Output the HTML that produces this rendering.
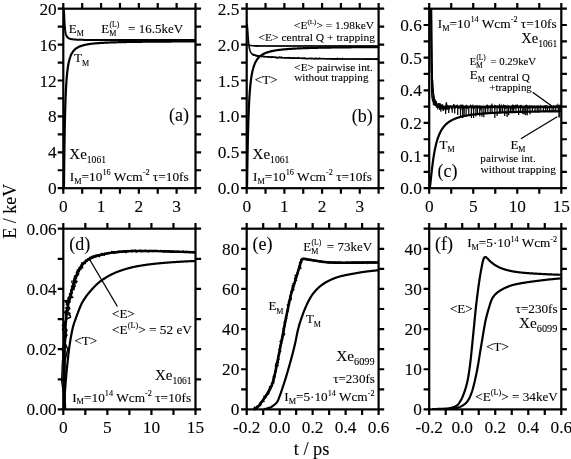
<!DOCTYPE html>
<html lang="en">
<head>
<meta charset="utf-8">
<title>E / keV versus t / ps</title>
<style>
html,body{margin:0;padding:0;background:#fff;}
body{width:571px;height:459px;overflow:hidden;}
svg{display:block;}
svg text{font-family:"Liberation Serif","Times New Roman",serif;fill:#000;stroke:#000;stroke-width:0.1px;white-space:pre;}
</style>
</head>
<body>
<svg width="571" height="459" viewBox="0 0 571 459">
<rect width="571" height="459" fill="#fff"/>
<rect x="63.3" y="8.7" width="132.2" height="179.5" fill="none" stroke="#000" stroke-width="2.2"/>
<path d="M63.3 188.2v5.6M63.3 8.7v-5.6M82.19 188.2v5.6M82.19 8.7v-5.6M101.07 188.2v5.6M101.07 8.7v-5.6M119.96 188.2v5.6M119.96 8.7v-5.6M138.84 188.2v5.6M138.84 8.7v-5.6M157.73 188.2v5.6M157.73 8.7v-5.6M176.61 188.2v5.6M176.61 8.7v-5.6M195.5 188.2v5.6M195.5 8.7v-5.6M63.3 188.2h-5.6M195.5 188.2h5.6M63.3 170.25h-5.6M195.5 170.25h5.6M63.3 152.3h-5.6M195.5 152.3h5.6M63.3 134.35h-5.6M195.5 134.35h5.6M63.3 116.4h-5.6M195.5 116.4h5.6M63.3 98.45h-5.6M195.5 98.45h5.6M63.3 80.5h-5.6M195.5 80.5h5.6M63.3 62.55h-5.6M195.5 62.55h5.6M63.3 44.6h-5.6M195.5 44.6h5.6M63.3 26.65h-5.6M195.5 26.65h5.6M63.3 8.7h-5.6M195.5 8.7h5.6" stroke="#000" stroke-width="2.2" fill="none"/>
<text x="63.3" y="211.7" font-size="17.3" text-anchor="middle">0</text>
<text x="101.07" y="211.7" font-size="17.3" text-anchor="middle">1</text>
<text x="138.84" y="211.7" font-size="17.3" text-anchor="middle">2</text>
<text x="176.61" y="211.7" font-size="17.3" text-anchor="middle">3</text>
<text x="56.7" y="194.2" font-size="17.3" text-anchor="end">0</text>
<text x="56.7" y="158.3" font-size="17.3" text-anchor="end">4</text>
<text x="56.7" y="122.4" font-size="17.3" text-anchor="end">8</text>
<text x="56.7" y="86.5" font-size="17.3" text-anchor="end">12</text>
<text x="56.7" y="50.6" font-size="17.3" text-anchor="end">16</text>
<text x="56.7" y="14.7" font-size="17.3" text-anchor="end">20</text>
<path d="M63.9 188.2L64 182.07L64.09 174.42L64.19 166.66L64.28 159.17L64.38 152.12L64.47 145.56L64.57 139.5L64.66 133.92L64.76 128.78L64.85 124.06L64.95 119.72L65.04 115.73L65.14 112.05L65.23 108.65L65.33 105.51L65.42 102.6L65.52 99.91L65.61 97.4L65.71 95.07L65.8 92.9L65.9 90.87L65.99 88.97L66.09 87.19L66.19 85.52L66.28 83.95L66.38 82.48L66.47 81.09L66.57 79.77L66.66 78.53L66.76 77.36L66.85 76.25L66.95 75.2L67.04 74.2L67.14 73.25L67.23 72.35L67.33 71.49L67.42 70.67L67.52 69.89L67.61 69.14L67.71 68.43L67.8 67.74L67.9 67.09L67.99 66.47L68.09 65.87L68.18 65.29L68.28 64.74L68.38 64.21L68.47 63.7L68.57 63.21L68.66 62.74L68.76 62.28L68.85 61.85L68.95 61.42L69.04 61.02L69.14 60.62L69.23 60.24L69.33 59.88L69.42 59.52L69.52 59.18L69.61 58.85L69.71 58.53L69.8 58.21L69.9 57.91L69.99 57.62L70.09 57.34L70.18 57.06L70.28 56.8L70.38 56.54L70.47 56.28L70.57 56.04L70.66 55.8L70.76 55.57L70.85 55.35L70.95 55.13L71.04 54.92L71.14 54.71L71.23 54.51L71.33 54.31L71.42 54.12L71.52 53.93L71.61 53.75L71.71 53.57L71.8 53.4L71.9 53.23L71.99 53.07L72.09 52.91L72.18 52.75L72.28 52.6L72.37 52.45L72.47 52.3L72.57 52.16L72.66 52.02L72.76 51.88L72.85 51.75L72.95 51.61L73.04 51.49L73.14 51.36L73.23 51.24L73.33 51.12L73.42 51L73.52 50.89L73.61 50.77L73.71 50.66L73.8 50.55L73.9 50.45L73.99 50.34L74.09 50.24L74.18 50.14L74.28 50.04L74.37 49.95L74.47 49.85L74.56 49.76L74.66 49.67L74.76 49.58L74.85 49.49L74.95 49.41L75.04 49.32L75.14 49.24L75.23 49.16L75.84 48.67L76.45 48.23L77.05 47.84L77.66 47.48L78.27 47.15L78.88 46.85L79.48 46.58L80.09 46.33L80.7 46.1L81.31 45.89L81.91 45.69L82.52 45.5L83.13 45.33L83.73 45.17L84.34 45.02L84.95 44.88L85.56 44.75L86.16 44.63L86.77 44.51L87.38 44.4L87.99 44.29L88.59 44.2L89.2 44.1L89.81 44.01L90.42 43.93L91.02 43.85L91.63 43.77L92.24 43.7L92.85 43.63L93.45 43.57L94.06 43.5L94.67 43.44L95.27 43.39L95.88 43.33L96.49 43.28L97.1 43.23L97.7 43.18L98.31 43.13L98.92 43.08L99.53 43.04L100.13 43L100.74 42.96L101.35 42.92L101.96 42.88L102.56 42.85L103.17 42.81L103.78 42.78L104.39 42.74L104.99 42.71L105.6 42.68L106.21 42.65L106.82 42.62L107.42 42.6L108.03 42.57L108.64 42.54L109.24 42.52L109.85 42.49L110.46 42.47L111.07 42.45L111.67 42.42L112.28 42.4L112.89 42.38L113.5 42.36L114.1 42.34L114.71 42.32L115.32 42.3L115.93 42.28L116.53 42.26L117.14 42.25L117.75 42.23L118.36 42.21L118.96 42.2L119.57 42.18L120.18 42.16L120.78 42.15L121.39 42.13L122 42.12L122.61 42.11L123.21 42.09L123.82 42.08L124.43 42.06L125.04 42.05L125.64 42.04L126.25 42.03L126.86 42.01L127.47 42L128.07 41.99L128.68 41.98L129.29 41.97L129.9 41.96L130.5 41.95L131.11 41.94L131.72 41.93L132.33 41.92L132.93 41.91L133.54 41.9L134.15 41.89L134.75 41.88L135.36 41.87L135.97 41.86L136.58 41.85L137.18 41.84L137.79 41.83L138.4 41.82L139.01 41.82L139.61 41.81L140.22 41.8L140.83 41.79L141.44 41.79L142.04 41.78L142.65 41.77L143.26 41.76L143.87 41.76L144.47 41.75L145.08 41.74L145.69 41.74L146.29 41.73L146.9 41.72L147.51 41.72L148.12 41.71L148.72 41.7L149.33 41.7L149.94 41.69L150.55 41.69L151.15 41.68L151.76 41.67L152.37 41.67L152.98 41.66L153.58 41.66L154.19 41.65L154.8 41.65L155.41 41.64L156.01 41.64L156.62 41.63L157.23 41.63L157.84 41.62L158.44 41.62L159.05 41.61L159.66 41.61L160.26 41.6L160.87 41.6L161.48 41.59L162.09 41.59L162.69 41.58L163.3 41.58L163.91 41.57L164.52 41.57L165.12 41.57L165.73 41.56L166.34 41.56L166.95 41.55L167.55 41.55L168.16 41.55L168.77 41.54L169.38 41.54L169.98 41.53L170.59 41.53L171.2 41.53L171.8 41.52L172.41 41.52L173.02 41.52L173.63 41.51L174.23 41.51L174.84 41.51L175.45 41.5L176.06 41.5L176.66 41.5L177.27 41.49L177.88 41.49L178.49 41.49L179.09 41.48L179.7 41.48L180.31 41.48L180.92 41.47L181.52 41.47L182.13 41.47L182.74 41.47L183.35 41.46L183.95 41.46L184.56 41.46L185.17 41.45L185.77 41.45L186.38 41.45L186.99 41.45L187.6 41.44L188.2 41.44L188.81 41.44L189.42 41.44L190.03 41.43L190.63 41.43L191.24 41.43L191.85 41.43L192.46 41.42L193.06 41.42L193.67 41.42L194.28 41.42L194.89 41.41L195.49 41.41L196.1 41.41" fill="none" stroke="#000" stroke-width="2.2" stroke-linejoin="round" stroke-linecap="butt"/>
<path d="M63.9 8.7L64 10.05L64.09 12.23L64.19 14.63L64.28 16.98L64.38 19.18L64.47 21.16L64.57 22.94L64.66 24.5L64.76 25.89L64.85 27.11L64.95 28.18L65.04 29.13L65.14 29.97L65.23 30.72L65.33 31.39L65.42 31.98L65.52 32.52L65.61 33L65.71 33.44L65.8 33.83L65.9 34.19L65.99 34.52L66.09 34.82L66.19 35.1L66.28 35.35L66.38 35.58L66.47 35.8L66.57 36L66.66 36.18L66.76 36.35L66.85 36.51L66.95 36.66L67.04 36.8L67.14 36.93L67.23 37.05L67.33 37.17L67.42 37.28L67.52 37.38L67.61 37.47L67.71 37.56L67.8 37.65L67.9 37.73L67.99 37.81L68.09 37.88L68.18 37.95L68.28 38.01L68.38 38.08L68.47 38.13L68.57 38.19L68.66 38.25L68.76 38.3L68.85 38.35L68.95 38.39L69.04 38.44L69.14 38.48L69.23 38.52L69.33 38.56L69.42 38.6L69.52 38.64L69.61 38.67L69.71 38.71L69.8 38.74L69.9 38.77L69.99 38.8L70.09 38.83L70.18 38.86L70.28 38.88L70.38 38.91L70.47 38.93L70.57 38.96L70.66 38.98L70.76 39L70.85 39.03L70.95 39.05L71.04 39.07L71.14 39.09L71.23 39.11L71.33 39.13L71.42 39.14L71.52 39.16L71.61 39.18L71.71 39.19L71.8 39.21L71.9 39.23L71.99 39.24L72.09 39.26L72.18 39.27L72.28 39.28L72.37 39.3L72.47 39.31L72.57 39.32L72.66 39.34L72.76 39.35L72.85 39.36L72.95 39.37L73.04 39.38L73.14 39.39L73.23 39.41L73.33 39.42L73.42 39.43L73.52 39.44L73.61 39.45L73.71 39.46L73.8 39.46L73.9 39.47L73.99 39.48L74.09 39.49L74.18 39.5L74.28 39.51L74.37 39.52L74.47 39.52L74.56 39.53L74.66 39.54L74.76 39.55L74.85 39.55L74.95 39.56L75.04 39.57L75.14 39.57L75.23 39.58L75.84 39.62L76.45 39.66L77.05 39.69L77.66 39.71L78.27 39.74L78.88 39.76L79.48 39.78L80.09 39.8L80.7 39.82L81.31 39.83L81.91 39.85L82.52 39.86L83.13 39.87L83.73 39.88L84.34 39.89L84.95 39.9L85.56 39.91L86.16 39.92L86.77 39.93L87.38 39.93L87.99 39.94L88.59 39.95L89.2 39.95L89.81 39.96L90.42 39.96L91.02 39.97L91.63 39.97L92.24 39.98L92.85 39.98L93.45 39.98L94.06 39.99L94.67 39.99L95.27 40L95.88 40L96.49 40L97.1 40.01L97.7 40.01L98.31 40.01L98.92 40.01L99.53 40.02L100.13 40.02L100.74 40.02L101.35 40.02L101.96 40.02L102.56 40.03L103.17 40.03L103.78 40.03L104.39 40.03L104.99 40.03L105.6 40.04L106.21 40.04L106.82 40.04L107.42 40.04L108.03 40.04L108.64 40.04L109.24 40.05L109.85 40.05L110.46 40.05L111.07 40.05L111.67 40.05L112.28 40.05L112.89 40.05L113.5 40.05L114.1 40.05L114.71 40.06L115.32 40.06L115.93 40.06L116.53 40.06L117.14 40.06L117.75 40.06L118.36 40.06L118.96 40.06L119.57 40.06L120.18 40.06L120.78 40.06L121.39 40.07L122 40.07L122.61 40.07L123.21 40.07L123.82 40.07L124.43 40.07L125.04 40.07L125.64 40.07L126.25 40.07L126.86 40.07L127.47 40.07L128.07 40.07L128.68 40.07L129.29 40.07L129.9 40.07L130.5 40.07L131.11 40.08L131.72 40.08L132.33 40.08L132.93 40.08L133.54 40.08L134.15 40.08L134.75 40.08L135.36 40.08L135.97 40.08L136.58 40.08L137.18 40.08L137.79 40.08L138.4 40.08L139.01 40.08L139.61 40.08L140.22 40.08L140.83 40.08L141.44 40.08L142.04 40.08L142.65 40.08L143.26 40.08L143.87 40.08L144.47 40.08L145.08 40.08L145.69 40.08L146.29 40.08L146.9 40.09L147.51 40.09L148.12 40.09L148.72 40.09L149.33 40.09L149.94 40.09L150.55 40.09L151.15 40.09L151.76 40.09L152.37 40.09L152.98 40.09L153.58 40.09L154.19 40.09L154.8 40.09L155.41 40.09L156.01 40.09L156.62 40.09L157.23 40.09L157.84 40.09L158.44 40.09L159.05 40.09L159.66 40.09L160.26 40.09L160.87 40.09L161.48 40.09L162.09 40.09L162.69 40.09L163.3 40.09L163.91 40.09L164.52 40.09L165.12 40.09L165.73 40.09L166.34 40.09L166.95 40.09L167.55 40.09L168.16 40.09L168.77 40.09L169.38 40.09L169.98 40.09L170.59 40.09L171.2 40.09L171.8 40.09L172.41 40.09L173.02 40.09L173.63 40.09L174.23 40.09L174.84 40.09L175.45 40.1L176.06 40.1L176.66 40.1L177.27 40.1L177.88 40.1L178.49 40.1L179.09 40.1L179.7 40.1L180.31 40.1L180.92 40.1L181.52 40.1L182.13 40.1L182.74 40.1L183.35 40.1L183.95 40.1L184.56 40.1L185.17 40.1L185.77 40.1L186.38 40.1L186.99 40.1L187.6 40.1L188.2 40.1L188.81 40.1L189.42 40.1L190.03 40.1L190.63 40.1L191.24 40.1L191.85 40.1L192.46 40.1L193.06 40.1L193.67 40.1L194.28 40.1L194.89 40.1L195.49 40.1L196.1 40.1" fill="none" stroke="#000" stroke-width="2" stroke-linejoin="round" stroke-linecap="butt"/>
<text xml:space="preserve"><tspan x="68.8" y="32.8" font-size="13">E</tspan><tspan x="76.74" y="36.44" font-size="8.06">M</tspan></text>
<text xml:space="preserve"><tspan x="101.2" y="32.8" font-size="13">E</tspan><tspan x="109.14" y="36.44" font-size="8.06">M</tspan><tspan x="109.44" y="27.21" font-size="7.66">(L)</tspan></text>
<text xml:space="preserve"><tspan x="128.1" y="32.8" font-size="13">= 16.5keV</tspan></text>
<text xml:space="preserve"><tspan x="74" y="62.3" font-size="13">T</tspan><tspan x="81.94" y="65.94" font-size="8.06">M</tspan></text>
<text xml:space="preserve"><tspan x="168.92" y="121.2" font-size="18">(a)</tspan></text>
<text xml:space="preserve"><tspan x="69.3" y="158.8" font-size="15">Xe</tspan><tspan x="86.79" y="163.15" font-size="9.6">1061</tspan></text>
<text xml:space="preserve"><tspan x="69.8" y="180.8" font-size="13" textLength="4.44" lengthAdjust="spacingAndGlyphs">I</tspan><tspan x="74.24" y="183.79" font-size="8.06" textLength="7.35" lengthAdjust="spacingAndGlyphs">M</tspan><tspan x="81.59" y="180.8" font-size="13" textLength="20.85" lengthAdjust="spacingAndGlyphs">=10</tspan><tspan x="102.43" y="175.21" font-size="8.06" textLength="8.26" lengthAdjust="spacingAndGlyphs">16</tspan><tspan x="110.7" y="180.8" font-size="13" textLength="31.96" lengthAdjust="spacingAndGlyphs"> Wcm</tspan><tspan x="142.65" y="175.21" font-size="8.06" textLength="6.88" lengthAdjust="spacingAndGlyphs">-2</tspan><tspan x="149.54" y="180.8" font-size="13" textLength="39.16" lengthAdjust="spacingAndGlyphs"> τ=10fs</tspan></text>
<rect x="246.7" y="8.7" width="131.9" height="179.5" fill="none" stroke="#000" stroke-width="2.2"/>
<path d="M246.7 188.2v5.6M246.7 8.7v-5.6M265.54 188.2v5.6M265.54 8.7v-5.6M284.39 188.2v5.6M284.39 8.7v-5.6M303.23 188.2v5.6M303.23 8.7v-5.6M322.07 188.2v5.6M322.07 8.7v-5.6M340.91 188.2v5.6M340.91 8.7v-5.6M359.76 188.2v5.6M359.76 8.7v-5.6M378.6 188.2v5.6M378.6 8.7v-5.6M246.7 188.2h-5.6M378.6 188.2h5.6M246.7 170.25h-5.6M378.6 170.25h5.6M246.7 152.3h-5.6M378.6 152.3h5.6M246.7 134.35h-5.6M378.6 134.35h5.6M246.7 116.4h-5.6M378.6 116.4h5.6M246.7 98.45h-5.6M378.6 98.45h5.6M246.7 80.5h-5.6M378.6 80.5h5.6M246.7 62.55h-5.6M378.6 62.55h5.6M246.7 44.6h-5.6M378.6 44.6h5.6M246.7 26.65h-5.6M378.6 26.65h5.6M246.7 8.7h-5.6M378.6 8.7h5.6" stroke="#000" stroke-width="2.2" fill="none"/>
<text x="246.7" y="211.7" font-size="17.3" text-anchor="middle">0</text>
<text x="284.39" y="211.7" font-size="17.3" text-anchor="middle">1</text>
<text x="322.07" y="211.7" font-size="17.3" text-anchor="middle">2</text>
<text x="359.76" y="211.7" font-size="17.3" text-anchor="middle">3</text>
<text x="239.3" y="194.2" font-size="17.3" text-anchor="end">0.0</text>
<text x="239.3" y="158.3" font-size="17.3" text-anchor="end">0.5</text>
<text x="239.3" y="122.4" font-size="17.3" text-anchor="end">1.0</text>
<text x="239.3" y="86.5" font-size="17.3" text-anchor="end">1.5</text>
<text x="239.3" y="50.6" font-size="17.3" text-anchor="end">2.0</text>
<text x="239.3" y="14.7" font-size="17.3" text-anchor="end">2.5</text>
<path d="M247 188.2L247.1 183.1L247.19 177.04L247.29 170.93L247.38 165L247.48 159.35L247.57 154.02L247.67 149.02L247.76 144.34L247.86 139.96L247.95 135.88L248.05 132.06L248.14 128.5L248.24 125.17L248.33 122.06L248.43 119.14L248.52 116.41L248.62 113.84L248.71 111.43L248.81 109.17L248.9 107.03L249 105.01L249.09 103.11L249.19 101.32L249.28 99.61L249.38 98L249.47 96.47L249.57 95.02L249.66 93.64L249.76 92.33L249.85 91.08L249.95 89.89L250.04 88.76L250.14 87.67L250.23 86.64L250.33 85.65L250.42 84.7L250.52 83.79L250.61 82.92L250.71 82.08L250.8 81.28L250.9 80.51L250.99 79.77L251.09 79.06L251.18 78.37L251.28 77.71L251.37 77.08L251.47 76.46L251.56 75.87L251.66 75.3L251.75 74.75L251.85 74.21L251.94 73.7L252.04 73.2L252.13 72.72L252.23 72.25L252.32 71.8L252.42 71.36L252.51 70.94L252.61 70.53L252.7 70.13L252.8 69.74L252.89 69.36L252.99 69L253.08 68.64L253.18 68.3L253.27 67.96L253.37 67.63L253.46 67.32L253.56 67.01L253.65 66.71L253.75 66.41L253.84 66.13L253.94 65.85L254.03 65.58L254.13 65.31L254.22 65.05L254.32 64.8L254.41 64.56L254.51 64.32L254.6 64.08L254.7 63.85L254.79 63.63L254.89 63.41L254.98 63.2L255.08 62.99L255.17 62.79L255.27 62.59L255.36 62.39L255.46 62.2L255.55 62.02L255.65 61.83L255.74 61.66L255.84 61.48L255.93 61.31L256.03 61.14L256.12 60.98L256.22 60.82L256.31 60.66L256.41 60.5L256.5 60.35L256.6 60.2L256.69 60.06L256.79 59.91L256.88 59.77L256.98 59.63L257.07 59.5L257.17 59.37L257.26 59.24L257.36 59.11L257.45 58.98L257.55 58.86L257.64 58.74L257.74 58.62L257.83 58.5L257.93 58.39L258.02 58.27L258.12 58.16L258.21 58.05L258.31 57.94L258.91 57.3L259.52 56.72L260.12 56.19L260.73 55.71L261.34 55.27L261.94 54.87L262.55 54.5L263.15 54.15L263.76 53.84L264.37 53.54L264.97 53.27L265.58 53.02L266.18 52.78L266.79 52.56L267.4 52.35L268 52.15L268.61 51.97L269.21 51.79L269.82 51.63L270.43 51.47L271.03 51.32L271.64 51.18L272.24 51.05L272.85 50.93L273.46 50.81L274.06 50.69L274.67 50.58L275.27 50.48L275.88 50.38L276.49 50.28L277.09 50.19L277.7 50.11L278.3 50.02L278.91 49.94L279.52 49.87L280.12 49.79L280.73 49.72L281.33 49.65L281.94 49.59L282.55 49.52L283.15 49.46L283.76 49.4L284.36 49.35L284.97 49.29L285.58 49.24L286.18 49.19L286.79 49.14L287.39 49.09L288 49.04L288.61 49L289.21 48.95L289.82 48.91L290.42 48.87L291.03 48.83L291.64 48.79L292.24 48.75L292.85 48.72L293.45 48.68L294.06 48.65L294.67 48.61L295.27 48.58L295.88 48.55L296.48 48.52L297.09 48.49L297.7 48.46L298.3 48.43L298.91 48.4L299.51 48.37L300.12 48.35L300.73 48.32L301.33 48.3L301.94 48.27L302.54 48.25L303.15 48.22L303.76 48.2L304.36 48.18L304.97 48.16L305.57 48.13L306.18 48.11L306.79 48.09L307.39 48.07L308 48.05L308.6 48.03L309.21 48.01L309.82 48L310.42 47.98L311.03 47.96L311.63 47.94L312.24 47.93L312.85 47.91L313.45 47.89L314.06 47.88L314.66 47.86L315.27 47.85L315.88 47.83L316.48 47.82L317.09 47.8L317.69 47.79L318.3 47.77L318.91 47.76L319.51 47.75L320.12 47.73L320.72 47.72L321.33 47.71L321.94 47.69L322.54 47.68L323.15 47.67L323.75 47.66L324.36 47.65L324.97 47.64L325.57 47.62L326.18 47.61L326.78 47.6L327.39 47.59L328 47.58L328.6 47.57L329.21 47.56L329.81 47.55L330.42 47.54L331.03 47.53L331.63 47.52L332.24 47.51L332.84 47.5L333.45 47.49L334.06 47.48L334.66 47.47L335.27 47.47L335.87 47.46L336.48 47.45L337.09 47.44L337.69 47.43L338.3 47.42L338.9 47.42L339.51 47.41L340.12 47.4L340.72 47.39L341.33 47.38L341.93 47.38L342.54 47.37L343.15 47.36L343.75 47.36L344.36 47.35L344.96 47.34L345.57 47.33L346.18 47.33L346.78 47.32L347.39 47.31L347.99 47.31L348.6 47.3L349.21 47.29L349.81 47.29L350.42 47.28L351.02 47.28L351.63 47.27L352.24 47.26L352.84 47.26L353.45 47.25L354.05 47.25L354.66 47.24L355.27 47.24L355.87 47.23L356.48 47.22L357.08 47.22L357.69 47.21L358.3 47.21L358.9 47.2L359.51 47.2L360.11 47.19L360.72 47.19L361.33 47.18L361.93 47.18L362.54 47.17L363.14 47.17L363.75 47.16L364.36 47.16L364.96 47.15L365.57 47.15L366.17 47.14L366.78 47.14L367.39 47.14L367.99 47.13L368.6 47.13L369.2 47.12L369.81 47.12L370.42 47.11L371.02 47.11L371.63 47.11L372.23 47.1L372.84 47.1L373.45 47.09L374.05 47.09L374.66 47.09L375.26 47.08L375.87 47.08L376.48 47.07L377.08 47.07L377.69 47.07L378.29 47.06L378.9 47.06" fill="none" stroke="#000" stroke-width="2.2" stroke-linejoin="round" stroke-linecap="butt"/>
<path d="M247.3 44.53L247.4 44.57L247.49 44.61L247.59 44.66L247.68 44.7L247.78 44.73L247.87 44.77L247.97 44.81L248.06 44.85L248.16 44.88L248.25 44.91L248.35 44.95L248.44 44.98L248.54 45.01L248.63 45.04L248.73 45.07L248.82 45.09L248.92 45.12L249.01 45.15L249.11 45.17L249.2 45.2L249.3 45.22L249.39 45.24L249.49 45.27L249.58 45.29L249.68 45.31L249.77 45.33L249.87 45.35L249.96 45.37L250.06 45.39L250.15 45.4L250.25 45.42L250.34 45.44L250.44 45.45L250.53 45.47L250.63 45.49L250.72 45.5L250.82 45.51L250.91 45.53L251.01 45.54L251.1 45.55L251.2 45.57L251.29 45.58L251.39 45.59L251.48 45.6L251.58 45.61L251.67 45.62L251.77 45.64L251.86 45.65L251.96 45.66L252.05 45.66L252.15 45.67L252.24 45.68L252.34 45.69L252.43 45.7L252.53 45.71L252.62 45.72L252.72 45.72L252.81 45.73L252.91 45.74L253 45.74L253.1 45.75L253.19 45.76L253.29 45.76L253.38 45.77L253.48 45.78L253.57 45.78L253.67 45.79L253.76 45.79L253.86 45.8L253.95 45.8L254.05 45.81L254.14 45.81L254.24 45.82L254.33 45.82L254.43 45.83L254.52 45.83L254.62 45.83L254.71 45.84L254.81 45.84L254.9 45.85L255 45.85L255.09 45.85L255.19 45.86L255.28 45.86L255.38 45.86L255.47 45.87L255.57 45.87L255.66 45.87L255.76 45.87L255.85 45.88L255.95 45.88L256.04 45.88L256.14 45.88L256.23 45.89L256.33 45.89L256.42 45.89L256.52 45.89L256.61 45.9L256.71 45.9L256.8 45.9L256.9 45.9L256.99 45.9L257.09 45.91L257.18 45.91L257.28 45.91L257.37 45.91L257.47 45.91L257.56 45.91L257.66 45.92L257.75 45.92L257.85 45.92L257.94 45.92L258.04 45.92L258.13 45.92L258.23 45.92L258.32 45.92L258.42 45.93L258.51 45.93L258.61 45.93L259.21 45.93L259.82 45.94L260.42 45.94L261.03 45.95L261.64 45.95L262.24 45.95L262.85 45.95L263.45 45.95L264.06 45.96L264.67 45.96L265.27 45.96L265.88 45.96L266.48 45.96L267.09 45.96L267.7 45.96L268.3 45.96L268.91 45.96L269.51 45.96L270.12 45.96L270.73 45.96L271.33 45.96L271.94 45.96L272.54 45.96L273.15 45.96L273.76 45.96L274.36 45.96L274.97 45.96L275.57 45.96L276.18 45.96L276.79 45.96L277.39 45.96L278 45.96L278.6 45.96L279.21 45.96L279.82 45.96L280.42 45.96L281.03 45.96L281.63 45.96L282.24 45.96L282.85 45.96L283.45 45.96L284.06 45.96L284.66 45.96L285.27 45.96L285.88 45.96L286.48 45.96L287.09 45.96L287.69 45.96L288.3 45.96L288.91 45.96L289.51 45.96L290.12 45.96L290.72 45.96L291.33 45.96L291.94 45.96L292.54 45.96L293.15 45.96L293.75 45.96L294.36 45.96L294.97 45.96L295.57 45.96L296.18 45.96L296.78 45.96L297.39 45.96L298 45.96L298.6 45.96L299.21 45.96L299.81 45.96L300.42 45.96L301.03 45.96L301.63 45.96L302.24 45.96L302.84 45.96L303.45 45.96L304.06 45.96L304.66 45.96L305.27 45.96L305.87 45.96L306.48 45.96L307.09 45.96L307.69 45.96L308.3 45.96L308.9 45.96L309.51 45.96L310.12 45.96L310.72 45.96L311.33 45.96L311.93 45.96L312.54 45.96L313.15 45.96L313.75 45.96L314.36 45.96L314.96 45.96L315.57 45.96L316.18 45.96L316.78 45.96L317.39 45.96L317.99 45.96L318.6 45.96L319.21 45.96L319.81 45.96L320.42 45.96L321.02 45.96L321.63 45.96L322.24 45.96L322.84 45.96L323.45 45.96L324.05 45.96L324.66 45.96L325.27 45.96L325.87 45.96L326.48 45.96L327.08 45.96L327.69 45.96L328.3 45.96L328.9 45.96L329.51 45.96L330.11 45.96L330.72 45.96L331.33 45.96L331.93 45.96L332.54 45.96L333.14 45.96L333.75 45.96L334.36 45.96L334.96 45.96L335.57 45.96L336.17 45.96L336.78 45.96L337.39 45.96L337.99 45.96L338.6 45.96L339.2 45.96L339.81 45.96L340.42 45.96L341.02 45.96L341.63 45.96L342.23 45.96L342.84 45.96L343.45 45.96L344.05 45.96L344.66 45.96L345.26 45.96L345.87 45.96L346.48 45.96L347.08 45.96L347.69 45.96L348.29 45.96L348.9 45.96L349.51 45.96L350.11 45.96L350.72 45.96L351.32 45.96L351.93 45.96L352.54 45.96L353.14 45.96L353.75 45.96L354.35 45.96L354.96 45.96L355.57 45.96L356.17 45.96L356.78 45.96L357.38 45.96L357.99 45.96L358.6 45.96L359.2 45.96L359.81 45.96L360.41 45.96L361.02 45.96L361.63 45.96L362.23 45.96L362.84 45.96L363.44 45.96L364.05 45.96L364.66 45.96L365.26 45.96L365.87 45.96L366.47 45.96L367.08 45.96L367.69 45.96L368.29 45.96L368.9 45.96L369.5 45.96L370.11 45.96L370.72 45.96L371.32 45.96L371.93 45.96L372.53 45.96L373.14 45.96L373.75 45.96L374.35 45.96L374.96 45.96L375.56 45.96L376.17 45.96L376.78 45.96L377.38 45.96L377.99 45.96L378.59 45.96L379.2 45.96" fill="none" stroke="#000" stroke-width="1.5" stroke-linejoin="round" stroke-linecap="butt"/>
<path d="M252.97 46.12L253.1 45.65L253.19 45.77L253.28 45.85L253.39 45.6L253.48 45.78L253.57 45.78L253.69 45.4L253.75 46.02L253.85 45.93L253.96 45.67L254.05 45.77L254.13 45.92L254.24 45.76L254.33 45.77L254.44 45.51L254.52 45.95L254.61 45.86L254.71 45.9L254.82 45.51L254.89 46.21L254.99 45.88L255.09 45.77L255.17 46.3L255.28 45.85L255.39 45.54L255.47 45.78L255.58 45.37L255.65 46.1L255.76 45.78L255.86 45.71L255.94 46.12L256.05 45.52L256.13 46L256.24 45.43L256.33 45.74L256.43 45.63L256.51 46.22L256.6 46.28L256.71 45.83L256.8 46.09L256.9 45.86L256.99 46.03L257.09 45.74L257.19 45.53L257.28 45.51L257.37 46L257.46 46.41L257.56 45.97L257.66 45.8L257.74 46.34L257.84 45.97L257.94 45.94L258.03 45.98L258.13 45.89L258.23 45.86L258.32 45.61L258.41 46.04L258.51 45.91L258.6 46.19L259.21 45.85L259.82 45.52L260.42 45.92L261.03 46.32L261.64 45.86L262.24 45.76L262.85 45.69L263.45 45.72L264.06 45.89L264.67 45.7L265.27 46.29L265.88 45.9L266.48 45.98L267.09 46.28L267.7 46.29L268.3 45.91L268.91 46.03L269.51 46.12L270.12 45.92L270.73 45.57L271.33 46.11L271.94 46.16L272.54 46.05L273.15 45.76L273.76 45.92L274.36 45.83L274.97 45.9L275.57 46.25L276.18 46.3L276.79 46.11L277.39 46.08L278 46.11L278.6 45.96L279.21 45.94L279.82 45.81L280.42 45.95L281.03 46.46L281.63 46.15L282.24 45.89L282.85 45.86L283.45 45.77L284.06 46.04L284.66 46.05L285.27 45.64L285.88 46.07L286.48 45.84L287.09 46.28L287.69 46L288.3 46.34L288.91 45.86L289.51 45.9L290.12 46.03L290.72 46.19L291.33 46.09L291.94 45.69L292.54 46L293.15 45.97L293.75 45.87L294.36 45.82L294.97 46.35L295.57 45.88L296.18 45.78L296.78 46.1L297.39 45.99L298 45.94L298.6 46.13L299.21 46.07L299.81 46.04L300.42 46.17L301.03 46.02L301.63 45.83L302.24 45.88L302.84 45.85L303.45 46.01L304.06 45.72L304.66 45.56L305.27 45.98L305.87 45.67L306.48 45.53L307.09 46.04L307.69 45.81L308.3 46.07L308.9 45.84L309.51 45.71L310.12 45.69L310.72 45.85L311.33 45.9L311.93 45.78L312.54 45.9L313.15 45.62L313.75 45.96L314.36 45.57L314.96 45.92L315.57 46.12L316.18 46.2L316.78 46.34L317.39 45.62L317.99 46.13L318.6 46.23L319.21 46.18L319.81 45.76L320.42 46.05L321.02 46.37L321.63 45.63L322.24 46.07L322.84 46.21L323.45 45.81L324.05 46.09L324.66 45.73L325.27 45.78L325.87 45.78L326.48 46L327.08 45.94L327.69 46.17L328.3 45.75L328.9 45.93L329.51 46.17L330.11 46.08L330.72 45.67L331.33 46.11L331.93 45.86L332.54 46.05L333.14 46.03L333.75 46.23L334.36 45.99L334.96 45.55L335.57 45.66L336.17 46.12L336.78 45.9L337.39 46.21L337.99 46.02L338.6 45.8L339.2 46.2L339.81 45.78L340.42 45.51L341.02 46.42L341.63 45.54L342.23 46.1L342.84 46.17L343.45 45.99L344.05 45.59L344.66 46.18L345.26 45.64L345.87 45.67L346.48 45.88L347.08 46.14L347.69 46.03L348.29 46.14L348.9 45.86L349.51 45.92L350.11 45.71L350.72 45.89L351.32 46.09L351.93 45.9L352.54 46.07L353.14 45.84L353.75 45.83L354.35 45.97L354.96 45.92L355.57 46.09L356.17 46L356.78 46.34L357.38 45.91L357.99 45.91L358.6 45.73L359.2 45.97L359.81 46.11L360.41 45.8L361.02 45.95L361.63 46.12L362.23 45.93L362.84 45.85L363.44 46.18L364.05 45.98L364.66 46.05L365.26 46.22L365.87 46.21L366.47 45.89L367.08 45.85L367.69 46.02L368.29 45.93L368.9 45.54L369.5 46.24L370.11 45.97L370.72 46.12L371.32 45.7L371.93 46.25L372.53 45.83L373.14 45.94L373.75 45.65L374.35 45.92L374.96 45.91L375.56 45.92L376.17 46.06L376.78 45.97L377.38 46.18L377.99 45.86L378.59 45.74L379.2 45.96" fill="none" stroke="#000" stroke-width="1" stroke-linejoin="round" stroke-linecap="butt"/>
<path d="M247 24.44L247.1 24.56L247.19 24.93L247.29 25.56L247.38 26.42L247.48 27.48L247.57 28.69L247.67 30.02L247.76 31.41L247.86 32.84L247.95 34.26L248.05 35.65L248.14 36.99L248.24 38.26L248.33 39.47L248.43 40.59L248.52 41.64L248.62 42.62L248.71 43.52L248.81 44.35L248.9 45.11L249 45.82L249.09 46.46L249.19 47.06L249.28 47.61L249.38 48.11L249.47 48.58L249.57 49L249.66 49.4L249.76 49.76L249.85 50.1L249.95 50.42L250.04 50.71L250.14 50.98L250.23 51.23L250.33 51.46L250.42 51.68L250.52 51.89L250.61 52.08L250.71 52.25L250.8 52.42L250.9 52.58L250.99 52.73L251.09 52.87L251.18 53L251.28 53.12L251.37 53.24L251.47 53.35L251.56 53.46L251.66 53.55L251.75 53.65L251.85 53.74L251.94 53.82L252.04 53.91L252.13 53.98L252.23 54.06L252.32 54.13L252.42 54.2L252.51 54.26L252.61 54.32L252.7 54.38L252.8 54.44L252.89 54.49L252.99 54.54L253.08 54.6L253.18 54.64L253.27 54.69L253.37 54.74L253.46 54.78L253.56 54.82L253.65 54.86L253.75 54.9L253.84 54.94L253.94 54.98L254.03 55.01L254.13 55.05L254.22 55.08L254.32 55.11L254.41 55.14L254.51 55.17L254.6 55.2L254.7 55.23L254.79 55.26L254.89 55.29L254.98 55.31L255.08 55.34L255.17 55.37L255.27 55.39L255.36 55.41L255.46 55.44L255.55 55.46L255.65 55.48L255.74 55.51L255.84 55.53L255.93 55.55L256.03 55.57L256.12 55.59L256.22 55.61L256.31 55.63L256.41 55.65L256.5 55.67L256.6 55.68L256.69 55.7L256.79 55.72L256.88 55.74L256.98 55.76L257.07 55.77L257.17 55.79L257.26 55.8L257.36 55.82L257.45 55.84L257.55 55.85L257.64 55.87L257.74 55.88L257.83 55.9L257.93 55.91L258.02 55.93L258.12 55.94L258.21 55.95L258.31 55.97L258.91 56.05L259.52 56.13L260.12 56.2L260.73 56.27L261.34 56.34L261.94 56.4L262.55 56.46L263.15 56.51L263.76 56.57L264.37 56.62L264.97 56.67L265.58 56.72L266.18 56.76L266.79 56.81L267.4 56.85L268 56.9L268.61 56.94L269.21 56.98L269.82 57.02L270.43 57.06L271.03 57.1L271.64 57.13L272.24 57.17L272.85 57.21L273.46 57.24L274.06 57.28L274.67 57.31L275.27 57.34L275.88 57.37L276.49 57.4L277.09 57.44L277.7 57.47L278.3 57.5L278.91 57.52L279.52 57.55L280.12 57.58L280.73 57.61L281.33 57.64L281.94 57.66L282.55 57.69L283.15 57.71L283.76 57.74L284.36 57.76L284.97 57.79L285.58 57.81L286.18 57.84L286.79 57.86L287.39 57.88L288 57.9L288.61 57.93L289.21 57.95L289.82 57.97L290.42 57.99L291.03 58.01L291.64 58.03L292.24 58.05L292.85 58.07L293.45 58.09L294.06 58.11L294.67 58.13L295.27 58.15L295.88 58.16L296.48 58.18L297.09 58.2L297.7 58.22L298.3 58.23L298.91 58.25L299.51 58.27L300.12 58.28L300.73 58.3L301.33 58.31L301.94 58.33L302.54 58.34L303.15 58.36L303.76 58.37L304.36 58.39L304.97 58.4L305.57 58.41L306.18 58.43L306.79 58.44L307.39 58.45L308 58.47L308.6 58.48L309.21 58.49L309.82 58.5L310.42 58.52L311.03 58.53L311.63 58.54L312.24 58.55L312.85 58.56L313.45 58.57L314.06 58.58L314.66 58.6L315.27 58.61L315.88 58.62L316.48 58.63L317.09 58.64L317.69 58.65L318.3 58.66L318.91 58.67L319.51 58.68L320.12 58.69L320.72 58.69L321.33 58.7L321.94 58.71L322.54 58.72L323.15 58.73L323.75 58.74L324.36 58.75L324.97 58.75L325.57 58.76L326.18 58.77L326.78 58.78L327.39 58.79L328 58.79L328.6 58.8L329.21 58.81L329.81 58.82L330.42 58.82L331.03 58.83L331.63 58.84L332.24 58.84L332.84 58.85L333.45 58.86L334.06 58.86L334.66 58.87L335.27 58.88L335.87 58.88L336.48 58.89L337.09 58.89L337.69 58.9L338.3 58.91L338.9 58.91L339.51 58.92L340.12 58.92L340.72 58.93L341.33 58.93L341.93 58.94L342.54 58.94L343.15 58.95L343.75 58.95L344.36 58.96L344.96 58.96L345.57 58.97L346.18 58.97L346.78 58.98L347.39 58.98L347.99 58.99L348.6 58.99L349.21 58.99L349.81 59L350.42 59L351.02 59.01L351.63 59.01L352.24 59.01L352.84 59.02L353.45 59.02L354.05 59.03L354.66 59.03L355.27 59.03L355.87 59.04L356.48 59.04L357.08 59.04L357.69 59.05L358.3 59.05L358.9 59.05L359.51 59.06L360.11 59.06L360.72 59.06L361.33 59.07L361.93 59.07L362.54 59.07L363.14 59.08L363.75 59.08L364.36 59.08L364.96 59.08L365.57 59.09L366.17 59.09L366.78 59.09L367.39 59.1L367.99 59.1L368.6 59.1L369.2 59.1L369.81 59.11L370.42 59.11L371.02 59.11L371.63 59.11L372.23 59.12L372.84 59.12L373.45 59.12L374.05 59.12L374.66 59.12L375.26 59.13L375.87 59.13L376.48 59.13L377.08 59.13L377.69 59.13L378.29 59.14L378.9 59.14" fill="none" stroke="#000" stroke-width="1.6" stroke-linejoin="round" stroke-linecap="butt"/>
<path d="M252.6 54.54L252.61 54.76L252.77 54.71L253.24 54.08L253.03 54.7L252.98 55.04L253.26 54.71L253.43 54.6L253.42 54.86L253.62 54.68L253.58 55.04L253.75 54.9L253.69 55.33L253.88 55.12L254.11 54.81L254.06 55.22L254.13 55.34L254.37 54.95L254.45 55.02L254.71 54.51L254.52 55.46L254.75 55.06L254.97 54.65L255.03 54.78L255 55.25L255.02 55.56L255.18 55.34L255.23 55.53L255.44 55.09L255.55 55.05L255.49 55.72L255.61 55.63L255.74 55.5L255.75 55.9L255.99 55.27L256.05 55.45L256.06 55.89L256.1 56.15L256.31 55.63L256.31 56.14L256.54 55.49L256.58 55.78L256.7 55.65L256.87 55.25L256.87 55.81L256.93 56.03L257.08 55.73L257.17 55.77L257.19 56.22L257.42 55.45L257.52 55.39L257.58 55.66L257.7 55.51L257.67 56.28L257.82 55.99L257.96 55.66L258.05 55.74L257.99 56.79L258.24 55.77L258.34 55.74L258.9 56.14L259.49 56.32L260.12 56.27L260.76 56L261.37 55.99L261.92 56.58L262.55 56.44L263.2 56.02L263.73 56.92L264.35 56.85L264.98 56.6L265.58 56.64L266.18 56.83L266.8 56.6L267.42 56.45L267.99 56.99L268.64 56.51L269.21 57.1L269.85 56.59L270.43 57.03L271.03 57.06L271.61 57.67L272.26 56.85L272.87 56.78L273.47 57.05L274.08 56.94L274.68 57.13L275.27 57.47L275.87 57.6L276.46 57.9L277.1 57.21L277.66 58.26L278.27 58.09L278.91 57.46L279.55 56.87L280.12 57.56L280.73 57.63L281.36 56.95L281.94 57.68L282.55 57.63L283.16 57.48L283.75 57.93L284.35 58.07L284.98 57.64L285.57 57.88L286.19 57.64L286.8 57.62L287.39 57.91L287.99 58.06L288.61 57.76L289.24 57.28L289.81 58.15L290.44 57.51L291.03 58.05L291.62 58.56L292.24 58.05L292.86 57.71L293.47 57.65L294.05 58.46L294.67 58.12L295.27 58.31L295.87 58.44L296.48 58.17L297.09 58.11L297.7 57.93L298.33 57.31L298.92 57.79L299.51 58.24L300.12 58.23L300.72 58.42L301.33 58.27L301.94 58.38L302.54 58.58L303.16 58.09L303.76 58.29L304.37 57.9L304.96 58.69L305.57 58.43L306.18 58.57L306.78 58.9L307.38 58.78L308 58.45L308.6 58.72L309.22 58.06L309.81 58.63L310.42 58.56L311.04 58.04L311.63 58.94L312.24 58.34L312.84 58.77L313.45 58.45L314.05 58.88L314.66 58.99L315.27 58.36L315.88 58.16L316.48 58.59L317.08 58.89L317.7 58.54L318.3 58.47L318.9 58.81L319.52 57.85L320.12 58.49L320.73 58.28L321.33 58.79L321.94 58.49L322.55 58.39L323.15 58.62L323.76 58.3L324.36 58.74L324.97 58.55L325.57 58.65L326.18 58.56L326.78 59.05L327.39 58.75L327.99 58.95L328.6 58.95L329.21 58.57L329.81 58.99L330.42 58.93L331.02 58.92L331.63 58.72L332.24 58.72L332.84 59.09L333.44 59.51L334.06 58.61L334.66 59.03L335.27 58.77L335.87 59.12L336.48 59.02L337.08 59.21L337.7 58.06L338.3 58.72L338.91 58.61L339.51 58.88L340.12 58.7L340.72 58.73L341.33 59.14L341.93 59.51L342.55 58.1L343.15 58.85L343.75 59.05L344.36 58.96L344.96 58.86L345.57 58.56L346.18 58.69L346.78 59.19L347.39 59.3L347.99 59.01L348.6 58.74L349.21 59.02L349.81 58.93L350.42 59.17L351.02 59.04L351.63 58.82L352.24 59.07L352.84 58.66L353.45 59.27L354.05 59.38L354.66 58.68L355.27 59.16L355.87 58.74L356.48 59.36L357.08 59.32L357.69 58.98L358.29 59.35L358.9 58.92L359.51 58.86L360.11 58.89L360.72 59.02L361.33 58.97L361.93 59.12L362.54 58.89L363.14 59.31L363.75 59.39L364.36 58.93L364.96 58.66L365.57 59.3L366.17 59.43L366.78 59.04L367.39 58.71L367.99 59.18L368.6 59.56L369.21 58.54L369.81 59.25L370.42 59.01L371.02 58.85L371.63 59.26L372.24 58.73L372.84 59.21L373.44 59.51L374.05 59.18L374.66 58.86L375.27 58.59L375.87 58.74L376.48 58.58L377.08 59.61L377.69 59.06L378.3 58.82L378.9 58.75" fill="none" stroke="#000" stroke-width="1.1" stroke-linejoin="round" stroke-linecap="butt"/>
<text xml:space="preserve"><tspan x="294" y="29.3" font-size="11.3" textLength="13.41" lengthAdjust="spacingAndGlyphs">&lt;E</tspan><tspan x="307.41" y="24.44" font-size="7.01" textLength="9.03" lengthAdjust="spacingAndGlyphs">(L)</tspan><tspan x="316.44" y="29.3" font-size="11.3" textLength="57.56" lengthAdjust="spacingAndGlyphs">&gt; = 1.98keV</tspan></text>
<text xml:space="preserve"><tspan x="258.5" y="41.1" font-size="11.3" textLength="116.5" lengthAdjust="spacingAndGlyphs">&lt;E&gt; central Q + trapping</tspan></text>
<text xml:space="preserve"><tspan x="294.3" y="70.8" font-size="11.3" textLength="78.5" lengthAdjust="spacingAndGlyphs">&lt;E&gt; pairwise int.</tspan></text>
<text xml:space="preserve"><tspan x="294.3" y="81.4" font-size="11.3" textLength="74.2" lengthAdjust="spacingAndGlyphs">without trapping</tspan></text>
<text xml:space="preserve"><tspan x="254.8" y="83.5" font-size="13">&lt;T&gt;</tspan></text>
<text xml:space="preserve"><tspan x="351.81" y="121.8" font-size="18">(b)</tspan></text>
<text xml:space="preserve"><tspan x="252.6" y="158.8" font-size="15">Xe</tspan><tspan x="270.09" y="163.15" font-size="9.6">1061</tspan></text>
<text xml:space="preserve"><tspan x="253.1" y="180.6" font-size="13" textLength="4.44" lengthAdjust="spacingAndGlyphs">I</tspan><tspan x="257.54" y="183.59" font-size="8.06" textLength="7.35" lengthAdjust="spacingAndGlyphs">M</tspan><tspan x="264.89" y="180.6" font-size="13" textLength="20.85" lengthAdjust="spacingAndGlyphs">=10</tspan><tspan x="285.73" y="175.01" font-size="8.06" textLength="8.26" lengthAdjust="spacingAndGlyphs">16</tspan><tspan x="294" y="180.6" font-size="13" textLength="31.96" lengthAdjust="spacingAndGlyphs"> Wcm</tspan><tspan x="325.95" y="175.01" font-size="8.06" textLength="6.88" lengthAdjust="spacingAndGlyphs">-2</tspan><tspan x="332.84" y="180.6" font-size="13" textLength="39.16" lengthAdjust="spacingAndGlyphs"> τ=10fs</tspan></text>
<rect x="429.2" y="8.7" width="132.1" height="179.5" fill="none" stroke="#000" stroke-width="2.2"/>
<path d="M429.2 188.2v5.6M429.2 8.7v-5.6M451.22 188.2v5.6M451.22 8.7v-5.6M473.23 188.2v5.6M473.23 8.7v-5.6M495.25 188.2v5.6M495.25 8.7v-5.6M517.27 188.2v5.6M517.27 8.7v-5.6M539.28 188.2v5.6M539.28 8.7v-5.6M561.3 188.2v5.6M561.3 8.7v-5.6M429.2 188.2h-5.6M561.3 188.2h5.6M429.2 171.88h-5.6M561.3 171.88h5.6M429.2 155.56h-5.6M561.3 155.56h5.6M429.2 139.25h-5.6M561.3 139.25h5.6M429.2 122.93h-5.6M561.3 122.93h5.6M429.2 106.61h-5.6M561.3 106.61h5.6M429.2 90.29h-5.6M561.3 90.29h5.6M429.2 73.97h-5.6M561.3 73.97h5.6M429.2 57.65h-5.6M561.3 57.65h5.6M429.2 41.34h-5.6M561.3 41.34h5.6M429.2 25.02h-5.6M561.3 25.02h5.6M429.2 8.7h-5.6M561.3 8.7h5.6" stroke="#000" stroke-width="2.2" fill="none"/>
<text x="429.2" y="211.7" font-size="17.3" text-anchor="middle">0</text>
<text x="473.23" y="211.7" font-size="17.3" text-anchor="middle">5</text>
<text x="517.27" y="211.7" font-size="17.3" text-anchor="middle">10</text>
<text x="561.3" y="211.7" font-size="17.3" text-anchor="middle">15</text>
<text x="421.8" y="194.2" font-size="17.3" text-anchor="end">0.0</text>
<text x="421.8" y="161.56" font-size="17.3" text-anchor="end">0.1</text>
<text x="421.8" y="128.93" font-size="17.3" text-anchor="end">0.2</text>
<text x="421.8" y="96.29" font-size="17.3" text-anchor="end">0.4</text>
<text x="421.8" y="63.65" font-size="17.3" text-anchor="end">0.5</text>
<text x="421.8" y="31.02" font-size="17.3" text-anchor="end">0.6</text>
<path d="M429.7 188.2L429.81 187.75L429.92 187.08L430.03 186.29L430.15 185.43L430.26 184.51L430.37 183.55L430.48 182.57L430.59 181.56L430.7 180.54L430.81 179.51L430.93 178.47L431.04 177.44L431.15 176.41L431.26 175.38L431.37 174.36L431.48 173.35L431.6 172.35L431.71 171.36L431.82 170.39L431.93 169.43L432.04 168.49L432.15 167.56L432.26 166.64L432.38 165.74L432.49 164.86L432.6 163.99L432.71 163.14L432.82 162.31L432.93 161.49L433.04 160.69L433.16 159.9L433.27 159.13L433.38 158.38L433.49 157.64L433.6 156.92L433.71 156.21L433.82 155.51L433.94 154.84L434.05 154.17L434.16 153.52L434.27 152.88L434.38 152.26L434.49 151.65L434.6 151.05L434.72 150.47L434.83 149.89L434.94 149.33L435.05 148.79L435.16 148.25L435.27 147.72L435.39 147.21L435.5 146.7L435.61 146.21L435.72 145.72L435.83 145.25L435.94 144.79L436.05 144.33L436.17 143.88L436.28 143.45L436.39 143.02L436.5 142.6L436.61 142.19L436.72 141.79L436.83 141.39L436.95 141L437.06 140.62L437.17 140.25L437.28 139.89L437.39 139.53L437.5 139.18L437.61 138.83L437.73 138.5L437.84 138.16L437.95 137.84L438.06 137.52L438.17 137.21L438.28 136.9L438.4 136.6L438.51 136.3L439.02 134.99L439.54 133.79L440.05 132.68L440.57 131.66L441.09 130.71L441.6 129.82L442.12 129L442.63 128.24L443.15 127.52L443.67 126.85L444.18 126.23L444.7 125.64L445.21 125.09L445.73 124.57L446.24 124.08L446.76 123.62L447.28 123.18L447.79 122.77L448.31 122.37L448.82 122L449.34 121.65L449.86 121.32L450.37 121L450.89 120.7L451.4 120.41L451.92 120.13L452.44 119.87L452.95 119.62L453.47 119.38L453.98 119.15L454.5 118.93L455.01 118.72L455.53 118.51L456.05 118.32L456.56 118.13L457.08 117.95L457.59 117.78L458.11 117.61L458.63 117.45L459.14 117.3L459.66 117.15L460.17 117.01L460.69 116.87L461.21 116.74L461.72 116.61L462.24 116.48L462.75 116.36L463.27 116.25L463.78 116.13L464.3 116.03L464.82 115.92L465.33 115.82L465.85 115.72L466.36 115.62L466.88 115.53L467.4 115.44L467.91 115.35L468.43 115.26L468.94 115.18L469.46 115.1L469.97 115.02L470.49 114.94L471.01 114.87L471.52 114.8L472.04 114.73L472.55 114.66L473.07 114.59L473.59 114.53L474.1 114.46L474.62 114.4L475.13 114.34L475.65 114.28L476.17 114.23L476.68 114.17L477.2 114.11L477.71 114.06L478.23 114.01L478.74 113.96L479.26 113.91L479.78 113.86L480.29 113.81L480.81 113.77L481.32 113.72L481.84 113.68L482.36 113.63L482.87 113.59L483.39 113.55L483.9 113.51L484.42 113.47L484.94 113.43L485.45 113.39L485.97 113.35L486.48 113.32L487 113.28L487.51 113.25L488.03 113.21L488.55 113.18L489.06 113.14L489.58 113.11L490.09 113.08L490.61 113.05L491.13 113.02L491.64 112.99L492.16 112.96L492.67 112.93L493.19 112.9L493.7 112.87L494.22 112.84L494.74 112.82L495.25 112.79L495.77 112.76L496.28 112.74L496.8 112.71L497.32 112.69L497.83 112.66L498.35 112.64L498.86 112.62L499.38 112.59L499.9 112.57L500.41 112.55L500.93 112.53L501.44 112.5L501.96 112.48L502.47 112.46L502.99 112.44L503.51 112.42L504.02 112.4L504.54 112.38L505.05 112.36L505.57 112.34L506.09 112.32L506.6 112.31L507.12 112.29L507.63 112.27L508.15 112.25L508.67 112.23L509.18 112.22L509.7 112.2L510.21 112.18L510.73 112.17L511.24 112.15L511.76 112.13L512.28 112.12L512.79 112.1L513.31 112.09L513.82 112.07L514.34 112.06L514.86 112.04L515.37 112.03L515.89 112.01L516.4 112L516.92 111.99L517.44 111.97L517.95 111.96L518.47 111.95L518.98 111.93L519.5 111.92L520.01 111.91L520.53 111.89L521.05 111.88L521.56 111.87L522.08 111.86L522.59 111.85L523.11 111.83L523.63 111.82L524.14 111.81L524.66 111.8L525.17 111.79L525.69 111.78L526.2 111.77L526.72 111.75L527.24 111.74L527.75 111.73L528.27 111.72L528.78 111.71L529.3 111.7L529.82 111.69L530.33 111.68L530.85 111.67L531.36 111.66L531.88 111.65L532.4 111.64L532.91 111.63L533.43 111.62L533.94 111.61L534.46 111.61L534.97 111.6L535.49 111.59L536.01 111.58L536.52 111.57L537.04 111.56L537.55 111.55L538.07 111.54L538.59 111.54L539.1 111.53L539.62 111.52L540.13 111.51L540.65 111.5L541.17 111.5L541.68 111.49L542.2 111.48L542.71 111.47L543.23 111.46L543.74 111.46L544.26 111.45L544.78 111.44L545.29 111.44L545.81 111.43L546.32 111.42L546.84 111.41L547.36 111.41L547.87 111.4L548.39 111.39L548.9 111.39L549.42 111.38L549.93 111.37L550.45 111.37L550.97 111.36L551.48 111.35L552 111.35L552.51 111.34L553.03 111.33L553.55 111.33L554.06 111.32L554.58 111.32L555.09 111.31L555.61 111.3L556.13 111.3L556.64 111.29L557.16 111.29L557.67 111.28L558.19 111.27L558.7 111.27L559.22 111.26L559.74 111.26L560.25 111.25L560.77 111.25L561.28 111.24L561.8 111.24" fill="none" stroke="#000" stroke-width="2.2" stroke-linejoin="round" stroke-linecap="butt"/>
<path d="M430.7 9.7L430.86 27.09L431.01 46.66L431.17 68.89L431.32 73.8L431.48 81.2L431.63 88.98L431.79 95.32L431.94 97.68L432.1 95.53L432.25 98.62L432.41 99.45L432.56 101.09L432.72 101.13L432.87 99.06L433.03 98.82L433.18 102.23L433.34 99.69L433.49 105.25L433.65 102.75L433.8 100.79L433.96 102.43L434.11 102.25L434.27 103.18L434.42 105.46L434.58 100.93L434.73 100.27L434.89 104.67L435.04 103.81L435.2 104.57L435.67 105.41L436.13 100.96L436.6 106.5L437.06 103.77L437.53 105.58L437.99 104.27L438.46 103.95L438.92 106.81L439.39 106.81L439.85 103.15L440.32 104.47L440.78 106.57L441.25 107.69L441.71 105.34L442.18 106.04L442.64 104.48L443.11 109.53L443.57 106.95L444.04 107.47L444.5 107.18L444.97 107.5L445.43 107.12L445.9 106.06L446.36 102.35L446.83 106.54L447.29 107.83L447.76 105.7L448.23 105.92L448.69 107.14L449.16 107.74L449.62 106.62L450.09 105.81L450.55 106.38L451.02 106.03L451.48 108.2L451.95 107.29L452.41 107.6L452.88 106.75L453.34 106.02L453.81 104.45L454.27 107.85L454.74 106.97L455.2 106.48L455.67 107.35L456.13 106.21L456.6 107.08L457.06 105.96L457.53 105.78L457.99 106.92L458.46 106.74L458.92 107.86L459.39 106.3L459.85 106.52L460.32 105.71L460.79 105.22L461.25 105.3L461.72 106.81L462.18 105.72L462.65 107.24L463.11 107.42L463.58 106.32L464.04 107.55L464.51 106.64L464.97 107.2L465.44 106.36L465.9 107.09L466.37 105.93L466.83 106.87L467.3 106.23L467.76 106.42L468.23 106.87L468.69 106.6L469.16 106.46L469.62 106.92L470.09 106.96L470.55 105.71L471.02 106.81L471.48 106.88L471.95 106.08L472.41 106.71L472.88 105.77L473.35 107.29L473.81 106.37L474.28 106.46L474.74 107.14L475.21 106.42L475.67 106.82L476.14 105.95L476.6 106.2L477.07 105.77L477.53 106.39L478 107.04L478.46 106.62L478.93 106.95L479.39 105.97L479.86 106.05L480.32 106.26L480.79 106.79L481.25 106.68L481.72 106.49L482.18 106.81L482.65 106.42L483.11 106.49L483.58 107.15L484.04 106.21L484.51 106.59L484.97 107.29L485.44 106.55L485.91 106.85L486.37 106.2L486.84 107.45L487.3 105.41L487.77 105.95L488.23 105.99L488.7 107.28L489.16 106.67L489.63 106.37L490.09 105.89L490.56 106.67L491.02 106.55L491.49 106.17L491.95 104.69L492.42 105.98L492.88 106.6L493.35 106.65L493.81 106.53L494.28 106.43L494.74 105.67L495.21 106.52L495.67 106.02L496.14 106.52L496.6 106.72L497.07 106.18L497.53 106.02L498 106.96L498.47 106.66L498.93 106.2L499.4 105.1L499.86 106.48L500.33 106.79L500.79 106.21L501.26 105.3L501.72 106.2L502.19 106.3L502.65 106.89L503.12 105.96L503.58 105.26L504.05 106.07L504.51 106.62L504.98 105.78L505.44 106.67L505.91 106.27L506.37 106.4L506.84 106.74L507.3 106.29L507.77 105.72L508.23 106.96L508.7 106.15L509.16 106.37L509.63 107.14L510.09 106.59L510.56 107.09L511.03 106.23L511.49 106.1L511.96 107.06L512.42 107.49L512.89 105.16L513.35 105.59L513.82 106.28L514.28 105.9L514.75 106.4L515.21 107.18L515.68 105.65L516.14 106.27L516.61 105.63L517.07 105.11L517.54 106.9L518 105.94L518.47 106.31L518.93 107.1L519.4 106.46L519.86 105.94L520.33 105.9L520.79 105.59L521.26 106.85L521.72 106.16L522.19 106.98L522.65 106.89L523.12 106.2L523.59 106.26L524.05 106.85L524.52 106.57L524.98 106.62L525.45 105.75L525.91 105.54L526.38 106.1L526.84 105.47L527.31 106.22L527.77 106.69L528.24 107.45L528.7 106.33L529.17 105.9L529.63 107.46L530.1 106.57L530.56 106.38L531.03 106.01L531.49 106.05L531.96 107.17L532.42 106.38L532.89 106.26L533.35 106.27L533.82 107.21L534.28 106.23L534.75 106.78L535.21 106.62L535.68 106.61L536.15 106.1L536.61 106.8L537.08 107.23L537.54 106.48L538.01 106.09L538.47 105.92L538.94 106.59L539.4 106.38L539.87 106.45L540.33 106.51L540.8 105.83L541.26 106.85L541.73 106.61L542.19 106.47L542.66 106.6L543.12 106.92L543.59 106.52L544.05 106.12L544.52 107.03L544.98 106.3L545.45 106.17L545.91 105.8L546.38 106.5L546.84 106.03L547.31 106.27L547.77 106.7L548.24 106.51L548.71 106.96L549.17 106.64L549.64 106.32L550.1 106.35L550.57 106.27L551.03 106.79L551.5 106.51L551.96 106.31L552.43 106.88L552.89 106.54L553.36 106.29L553.82 105.82L554.29 106.7L554.75 106.61L555.22 106.52L555.68 106.3L556.15 105.51L556.61 106.4L557.08 106.6L557.54 106.44L558.01 105.05L558.47 106.29L558.94 106.65L559.4 106.61L559.87 104.87L560.33 106.84L560.8 106.86" fill="none" stroke="#000" stroke-width="1.3" stroke-linejoin="miter" stroke-linecap="butt"/>
<path d="M430.7 9.7L430.86 9.7L431.01 9.7L431.17 9.7L431.32 9.7L431.48 9.7L431.63 9.7L431.79 31.76L431.94 48.51L432.1 62.11L432.25 65.53L432.41 79.72L432.56 80.13L432.72 86.29L432.87 91.34L433.03 88.28L433.18 95.09L433.34 100.8L433.49 96.22L433.65 96.84L433.8 97.53L433.96 100.52L434.11 98.44L434.27 98.82L434.42 101.63L434.58 105.33L434.73 102.77L434.89 101.24L435.04 100.14L435.2 104.1L435.67 105.72L436.13 102.9L436.6 103.55L437.06 106.1L437.53 107.81L437.99 106.36L438.46 105.33L438.92 104.1L439.39 109.77L439.85 108.18L440.32 105.48L440.78 108.74L441.25 108.37L441.71 106.64L442.18 106.89L442.64 108.31L443.11 109.56L443.57 107.99L444.04 108.18L444.5 109.41L444.97 105.86L445.43 107.59L445.9 107.38L446.36 108.61L446.83 106.02L447.29 107.69L447.76 105.9L448.23 107.95L448.69 107.01L449.16 106.93L449.62 108.25L450.09 107.05L450.55 107.31L451.02 107.14L451.48 107.21L451.95 106.95L452.41 106.58L452.88 106.87L453.34 105.56L453.81 107.08L454.27 107.84L454.74 106.18L455.2 107.52L455.67 106.88L456.13 106.73L456.6 106.64L457.06 105.67L457.53 107.95L457.99 106.35L458.46 106.68L458.92 107.84L459.39 107.59L459.85 107L460.32 107.09L460.79 107.25L461.25 107.63L461.72 105.9L462.18 108.42L462.65 107.14L463.11 108.02L463.58 107.38L464.04 108.22L464.51 107.31L464.97 106.84L465.44 107.36L465.9 107.93L466.37 107.13L466.83 107.26L467.3 106.86L467.76 108.11L468.23 106.75L468.69 106.56L469.16 106.4L469.62 106.85L470.09 107.13L470.55 106.41L471.02 107.78L471.48 107.22L471.95 108.06L472.41 106.33L472.88 107.33L473.35 107.34L473.81 107.68L474.28 107.97L474.74 106.73L475.21 107.48L475.67 107.4L476.14 106.95L476.6 107.11L477.07 107.34L477.53 107.21L478 107.82L478.46 106.96L478.93 107.33L479.39 107.23L479.86 106.68L480.32 108.68L480.79 107.2L481.25 107L481.72 108.05L482.18 107.53L482.65 107.72L483.11 107.43L483.58 107.41L484.04 107.12L484.51 107.44L484.97 107.91L485.44 107.38L485.91 107.25L486.37 107.29L486.84 106.93L487.3 107.68L487.77 107.14L488.23 107.35L488.7 107.81L489.16 106.75L489.63 107.15L490.09 107L490.56 107.54L491.02 107.78L491.49 107.46L491.95 107.31L492.42 107.63L492.88 106.91L493.35 107.38L493.81 107.02L494.28 107.2L494.74 107.48L495.21 107.75L495.67 107.74L496.14 107.28L496.6 106.96L497.07 107.11L497.53 107.59L498 107.62L498.47 107.8L498.93 106.99L499.4 107.47L499.86 107.6L500.33 107.48L500.79 107.26L501.26 107.41L501.72 107.42L502.19 107.11L502.65 107.21L503.12 106.93L503.58 106.57L504.05 107.66L504.51 107.01L504.98 107.22L505.44 107.94L505.91 106.68L506.37 107.61L506.84 107.17L507.3 107.08L507.77 107.4L508.23 107.06L508.7 108.15L509.16 106.76L509.63 107.32L510.09 106.81L510.56 106.98L511.03 106.85L511.49 107.97L511.96 107.64L512.42 108.14L512.89 108.15L513.35 107.91L513.82 107.62L514.28 108.08L514.75 106.77L515.21 107.12L515.68 106.72L516.14 107.38L516.61 107.58L517.07 107.41L517.54 107.51L518 107.52L518.47 107.42L518.93 106.81L519.4 107.31L519.86 107.04L520.33 107.17L520.79 107.96L521.26 107.32L521.72 106.91L522.19 107.35L522.65 107.21L523.12 107.73L523.59 107.39L524.05 106.95L524.52 107.44L524.98 107.27L525.45 107.04L525.91 106.6L526.38 107.36L526.84 107.05L527.31 107.54L527.77 107.84L528.24 108.5L528.7 107.33L529.17 107.26L529.63 106.96L530.1 107.52L530.56 106.67L531.03 107.07L531.49 107.36L531.96 107.47L532.42 107.07L532.89 107.65L533.35 107.15L533.82 107.62L534.28 107.49L534.75 107.6L535.21 106.85L535.68 107.31L536.15 107.88L536.61 107.77L537.08 107.14L537.54 107.37L538.01 107.44L538.47 106.74L538.94 107.15L539.4 107.5L539.87 107.39L540.33 107.14L540.8 106.94L541.26 107.2L541.73 107.08L542.19 106.87L542.66 106.58L543.12 107.08L543.59 106.63L544.05 107.15L544.52 106.77L544.98 107.88L545.45 107.19L545.91 107.51L546.38 107.39L546.84 107.51L547.31 107.52L547.77 107.34L548.24 107.82L548.71 107.6L549.17 107.13L549.64 107.02L550.1 107.69L550.57 107.43L551.03 107.17L551.5 106.68L551.96 106.96L552.43 106.94L552.89 107.58L553.36 107.35L553.82 107.32L554.29 107.44L554.75 107.51L555.22 107.38L555.68 107.39L556.15 107.2L556.61 107.37L557.08 107.59L557.54 107.46L558.01 107.62L558.47 107.57L558.94 107.43L559.4 107.12L559.87 107.81L560.33 107.43L560.8 107.27" fill="none" stroke="#000" stroke-width="1.3" stroke-linejoin="miter" stroke-linecap="butt"/>
<path d="M431.1 9.7L431.7 70L432.7 90L434.2 99L436.7 104" fill="none" stroke="#000" stroke-width="1.8" stroke-linejoin="round" stroke-linecap="butt"/>
<path d="M436.2 106.7L561.3 106.7" fill="none" stroke="#000" stroke-width="1.9" stroke-linejoin="round" stroke-linecap="butt"/>
<path d="M440.83 106.5V111.85M443.37 106.5V111.01M445.6 106.5V114.09M448.74 106.5V112.98M452.2 106.5V112.7M454.72 106.5V113.61M457.74 106.5V115.07M460.52 106.5V117.28M462.69 106.5V118M464.17 106.5V116.16M466.14 106.5V116.69M468.77 106.5V115.49M471.39 106.5V118M473.59 106.5V118M475.88 106.5V116.62M477.48 106.5V114.41M479.74 106.5V116.37M481.93 106.5V116.86M483.85 106.5V117.28M485.58 106.5V113.5M487.84 106.5V113.07M490.25 106.5V113.14M492.04 106.5V113.16M494.81 106.5V117.98M497.08 106.5V115.91M499.53 106.5V113.27M500.85 106.5V112.87M502.61 106.5V112.93M504.72 106.5V115.88M507.09 106.5V116.99M508.65 106.5V115.14M510.53 106.5V112.97M512.19 106.5V111.89M513.66 106.5V111.8M516.01 106.5V112.01M518.65 106.5V115.05M520.58 106.5V111.59M522.73 106.5V114.11M524.14 106.5V114.58M525.69 106.5V115.37M527.28 106.5V115.29M529.99 106.5V114.25M532.42 106.5V111.77M535.06 106.5V112.04M537.27 106.5V111.3M538.94 106.5V112.13M540.81 106.5V111.04M543.35 106.5V111.12M545.71 106.5V111.28M547.57 106.5V111.68M549.72 106.5V111.41M552.02 106.5V111.25M553.75 106.5V111.61M555.77 106.5V111.01M558.27 106.5V110.81M560.84 106.5V110.87" fill="none" stroke="#000" stroke-width="1.25"/>
<path d="M559.1 107V117.5" fill="none" stroke="#000" stroke-width="1.6"/>
<text xml:space="preserve"><tspan x="437.8" y="27.8" font-size="13" textLength="4.44" lengthAdjust="spacingAndGlyphs">I</tspan><tspan x="442.24" y="30.79" font-size="8.06" textLength="7.35" lengthAdjust="spacingAndGlyphs">M</tspan><tspan x="449.59" y="27.8" font-size="13" textLength="20.85" lengthAdjust="spacingAndGlyphs">=10</tspan><tspan x="470.43" y="22.21" font-size="8.06" textLength="8.26" lengthAdjust="spacingAndGlyphs">14</tspan><tspan x="478.7" y="27.8" font-size="13" textLength="31.96" lengthAdjust="spacingAndGlyphs"> Wcm</tspan><tspan x="510.65" y="22.21" font-size="8.06" textLength="6.88" lengthAdjust="spacingAndGlyphs">-2</tspan><tspan x="517.54" y="27.8" font-size="13" textLength="39.16" lengthAdjust="spacingAndGlyphs"> τ=10fs</tspan></text>
<text xml:space="preserve"><tspan x="521.35" y="43.3" font-size="14.5">Xe</tspan><tspan x="538.26" y="46.78" font-size="9.57">1061</tspan></text>
<text xml:space="preserve"><tspan x="469.7" y="65" font-size="10.5">E</tspan><tspan x="476.11" y="68.15" font-size="7.56">M</tspan><tspan x="476.41" y="59.75" font-size="7.18">(L)</tspan></text>
<text xml:space="preserve"><tspan x="490.5" y="65" font-size="10.8" textLength="45.6" lengthAdjust="spacingAndGlyphs">= 0.29keV</tspan></text>
<text xml:space="preserve"><tspan x="469.7" y="78.6" font-size="13">E</tspan><tspan x="477.64" y="82.24" font-size="8.06">M</tspan></text>
<text xml:space="preserve"><tspan x="488.6" y="80.6" font-size="11.1" textLength="41.3" lengthAdjust="spacingAndGlyphs">central Q</tspan></text>
<text xml:space="preserve"><tspan x="489.3" y="90.9" font-size="11" textLength="42.5" lengthAdjust="spacingAndGlyphs">+trapping</tspan></text>
<path d="M532.6 92.3L553.5 107.3" stroke="#000" stroke-width="1.3" fill="none"/>
<path d="M520.9 138.7L557.2 116.8" stroke="#000" stroke-width="1.3" fill="none"/>
<text xml:space="preserve"><tspan x="510.4" y="148.9" font-size="13">E</tspan><tspan x="518.34" y="151.76" font-size="8.06">M</tspan></text>
<text xml:space="preserve"><tspan x="439.5" y="148.9" font-size="13">T</tspan><tspan x="447.44" y="151.5" font-size="8.06">M</tspan></text>
<text xml:space="preserve"><tspan x="437.6" y="177" font-size="18">(c)</tspan></text>
<text xml:space="preserve"><tspan x="480.3" y="162.2" font-size="11.4" textLength="55.5" lengthAdjust="spacingAndGlyphs">pairwise int.</tspan></text>
<text xml:space="preserve"><tspan x="480.6" y="172.5" font-size="11.4" textLength="75.3" lengthAdjust="spacingAndGlyphs">without trapping</tspan></text>
<rect x="63.3" y="228.7" width="132.2" height="180.7" fill="none" stroke="#000" stroke-width="2.2"/>
<path d="M63.3 409.4v5.6M63.3 228.7v-5.6M85.33 409.4v5.6M85.33 228.7v-5.6M107.37 409.4v5.6M107.37 228.7v-5.6M129.4 409.4v5.6M129.4 228.7v-5.6M151.43 409.4v5.6M151.43 228.7v-5.6M173.47 409.4v5.6M173.47 228.7v-5.6M195.5 409.4v5.6M195.5 228.7v-5.6M63.3 409.4h-5.6M195.5 409.4h5.6M63.3 379.28h-5.6M195.5 379.28h5.6M63.3 349.17h-5.6M195.5 349.17h5.6M63.3 319.05h-5.6M195.5 319.05h5.6M63.3 288.93h-5.6M195.5 288.93h5.6M63.3 258.82h-5.6M195.5 258.82h5.6M63.3 228.7h-5.6M195.5 228.7h5.6" stroke="#000" stroke-width="2.2" fill="none"/>
<text x="63.3" y="432.9" font-size="17.3" text-anchor="middle">0</text>
<text x="107.37" y="432.9" font-size="17.3" text-anchor="middle">5</text>
<text x="151.43" y="432.9" font-size="17.3" text-anchor="middle">10</text>
<text x="195.5" y="432.9" font-size="17.3" text-anchor="middle">15</text>
<text x="56.7" y="415.4" font-size="17.3" text-anchor="end">0.00</text>
<text x="56.7" y="355.17" font-size="17.3" text-anchor="end">0.02</text>
<text x="56.7" y="294.93" font-size="17.3" text-anchor="end">0.04</text>
<text x="56.7" y="234.7" font-size="17.3" text-anchor="end">0.06</text>
<path d="M63.9 409L64.23 402.85L64.56 397.59L64.89 392.78L65.22 388.23L65.55 383.94L65.87 379.88L66.2 376.05L66.53 372.41L66.86 368.97L67.19 365.65L67.52 362.44L67.85 359.34L68.18 356.37L68.51 353.53L68.84 350.82L69.17 348.26L69.49 345.85L69.82 343.6L70.15 341.49L70.48 339.47L70.81 337.54L71.14 335.69L71.47 333.93L71.8 332.27L72.13 330.7L72.46 329.22L72.78 327.85L73.11 326.57L73.44 325.38L73.77 324.26L74.1 323.21L74.43 322.21L74.76 321.25L75.09 320.33L75.42 319.42L75.75 318.53L76.08 317.64L76.4 316.74L76.73 315.84L77.06 314.94L77.39 314.04L77.72 313.15L78.05 312.26L78.38 311.39L78.71 310.53L79.04 309.68L79.37 308.84L79.7 308.02L80.02 307.22L80.35 306.45L80.68 305.69L81.01 304.97L81.34 304.27L81.67 303.59L82 302.96L82.33 302.35L82.66 301.77L82.99 301.2L83.32 300.65L83.64 300.11L83.97 299.58L84.3 299.07L84.63 298.56L84.96 298.07L85.29 297.59L85.62 297.12L85.95 296.66L86.28 296.21L86.61 295.77L86.94 295.33L87.26 294.91L87.59 294.49L87.92 294.07L88.25 293.67L88.58 293.27L88.91 292.87L89.24 292.48L89.57 292.09L89.9 291.7L90.23 291.32L90.55 290.94L90.88 290.56L91.21 290.18L91.54 289.81L91.87 289.44L92.2 289.07L92.53 288.7L92.86 288.34L93.19 287.98L93.52 287.62L93.85 287.27L94.17 286.92L94.5 286.58L94.83 286.24L95.16 285.9L95.49 285.57L95.82 285.25L96.15 284.92L96.48 284.61L96.81 284.3L97.14 283.99L97.47 283.69L97.79 283.39L98.12 283.1L98.45 282.82L98.78 282.54L99.11 282.27L99.44 282.01L99.77 281.75L100.1 281.5L100.43 281.25L100.76 281.01L101.09 280.78L101.41 280.54L101.74 280.31L102.07 280.08L102.4 279.85L102.73 279.63L103.06 279.41L103.39 279.18L103.72 278.97L104.05 278.75L104.38 278.54L104.71 278.32L105.03 278.11L105.36 277.91L105.69 277.7L106.02 277.5L106.35 277.3L106.68 277.1L107.01 276.9L107.34 276.71L107.67 276.52L108 276.33L108.32 276.14L108.65 275.95L108.98 275.77L109.31 275.59L109.64 275.41L109.97 275.23L110.3 275.06L110.63 274.89L110.96 274.72L111.29 274.55L111.62 274.39L111.94 274.22L112.27 274.06L112.6 273.9L112.93 273.75L113.26 273.59L113.59 273.44L113.92 273.29L114.25 273.14L114.58 273L114.91 272.86L115.24 272.72L115.56 272.58L115.89 272.44L116.22 272.31L116.55 272.18L116.88 272.05L117.21 271.92L117.54 271.79L117.87 271.67L118.2 271.54L118.53 271.42L118.86 271.3L119.18 271.18L119.51 271.06L119.84 270.94L120.17 270.82L120.5 270.71L120.83 270.59L121.16 270.48L121.49 270.37L121.82 270.26L122.15 270.14L122.47 270.04L122.8 269.93L123.13 269.82L123.46 269.71L123.79 269.61L124.12 269.51L124.45 269.4L124.78 269.3L125.11 269.2L125.44 269.1L125.77 269L126.09 268.91L126.42 268.81L126.75 268.72L127.08 268.62L127.41 268.53L127.74 268.44L128.07 268.35L128.4 268.26L128.73 268.17L129.06 268.08L129.39 268L129.71 267.91L130.04 267.83L130.37 267.74L130.7 267.66L131.03 267.58L131.36 267.5L131.69 267.43L132.02 267.35L132.35 267.27L132.68 267.2L133.01 267.12L133.33 267.05L133.66 266.98L133.99 266.91L134.32 266.84L134.65 266.77L134.98 266.7L135.31 266.64L135.64 266.57L135.97 266.51L136.3 266.44L136.63 266.38L136.95 266.32L137.28 266.25L137.61 266.19L137.94 266.13L138.27 266.07L138.6 266.01L138.93 265.95L139.26 265.9L139.59 265.84L139.92 265.78L140.24 265.72L140.57 265.67L140.9 265.61L141.23 265.56L141.56 265.5L141.89 265.45L142.22 265.4L142.55 265.35L142.88 265.29L143.21 265.24L143.54 265.19L143.86 265.14L144.19 265.09L144.52 265.04L144.85 264.99L145.18 264.95L145.51 264.9L145.84 264.85L146.17 264.81L146.5 264.76L146.83 264.71L147.16 264.67L147.48 264.62L147.81 264.58L148.14 264.54L148.47 264.49L148.8 264.45L149.13 264.41L149.46 264.37L149.79 264.32L150.12 264.28L150.45 264.24L150.78 264.2L151.1 264.16L151.43 264.12L151.76 264.09L152.09 264.05L152.42 264.01L152.75 263.97L153.08 263.93L153.41 263.9L153.74 263.86L154.07 263.82L154.39 263.79L154.72 263.75L155.05 263.72L155.38 263.68L155.71 263.65L156.04 263.61L156.37 263.58L156.7 263.54L157.03 263.51L157.36 263.48L157.69 263.44L158.01 263.41L158.34 263.38L158.67 263.35L159 263.31L159.33 263.28L159.66 263.25L159.99 263.22L160.32 263.19L160.65 263.16L160.98 263.13L161.31 263.1L161.63 263.07L161.96 263.04L162.29 263.01L162.62 262.98L162.95 262.95L163.28 262.92L163.61 262.89L163.94 262.87L164.27 262.84L164.6 262.81L164.93 262.79L165.25 262.76L165.58 262.73L165.91 262.71L166.24 262.68L166.57 262.65L166.9 262.63L167.23 262.6L167.56 262.58L167.89 262.55L168.22 262.53L168.55 262.5L168.87 262.48L169.2 262.46L169.53 262.43L169.86 262.41L170.19 262.39L170.52 262.36L170.85 262.34L171.18 262.32L171.51 262.3L171.84 262.27L172.16 262.25L172.49 262.23L172.82 262.2L173.15 262.18L173.48 262.16L173.81 262.14L174.14 262.12L174.47 262.09L174.8 262.07L175.13 262.05L175.46 262.03L175.78 262.01L176.11 261.99L176.44 261.96L176.77 261.94L177.1 261.92L177.43 261.9L177.76 261.88L178.09 261.86L178.42 261.84L178.75 261.82L179.08 261.8L179.4 261.78L179.73 261.76L180.06 261.74L180.39 261.72L180.72 261.7L181.05 261.68L181.38 261.66L181.71 261.64L182.04 261.62L182.37 261.6L182.7 261.58L183.02 261.56L183.35 261.54L183.68 261.53L184.01 261.51L184.34 261.49L184.67 261.47L185 261.45L185.33 261.44L185.66 261.42L185.99 261.4L186.32 261.39L186.64 261.37L186.97 261.35L187.3 261.34L187.63 261.32L187.96 261.3L188.29 261.29L188.62 261.27L188.95 261.26L189.28 261.24L189.61 261.23L189.93 261.21L190.26 261.2L190.59 261.18L190.92 261.17L191.25 261.15L191.58 261.14L191.91 261.12L192.24 261.11L192.57 261.1L192.9 261.08L193.23 261.07L193.55 261.06L193.88 261.05L194.21 261.04L194.54 261.02L194.87 261.01L195.2 261" fill="none" stroke="#000" stroke-width="2.2" stroke-linejoin="round" stroke-linecap="butt"/>
<path d="M64 409L64.23 381.15L64.46 362.64L64.7 349.06L64.93 341.13L65.16 334.94L65.39 329.77L65.62 325.49L65.86 322L66.09 319.17L66.32 316.86L66.55 314.82L66.78 312.98L67.01 311.32L67.25 309.81L67.48 308.44L67.71 307.18L67.94 306L68.17 304.88L68.41 303.8L68.64 302.73L68.87 301.64L69.1 300.56L69.33 299.54L69.57 298.55L69.8 297.61L70.03 296.71L70.26 295.83L70.49 294.97L70.72 294.13L70.96 293.3L71.19 292.48L71.42 291.65L71.65 290.81L71.88 289.97L72.12 289.13L72.35 288.29L72.58 287.45L72.81 286.62L73.04 285.81L73.28 285L73.51 284.22L73.74 283.45L73.97 282.7L74.2 281.97L74.43 281.27L74.67 280.59L74.9 279.94L75.13 279.3L75.36 278.66L75.59 278.03L75.83 277.4L76.06 276.79L76.29 276.18L76.52 275.58L76.75 275L76.99 274.42L77.22 273.86L77.45 273.3L77.68 272.76L77.91 272.23L78.14 271.72L78.38 271.22L78.61 270.74L78.84 270.27L79.07 269.81L79.3 269.38L79.54 268.96L79.77 268.55L80 268.17L80.48 267.38L80.96 266.64L81.45 265.92L81.93 265.25L82.41 264.61L82.89 264.01L83.37 263.44L83.86 262.93L84.34 262.45L84.82 262.01L85.3 261.6L85.78 261.21L86.27 260.84L86.75 260.49L87.23 260.16L87.71 259.85L88.19 259.55L88.68 259.28L89.16 259.02L89.64 258.78L90.12 258.55L90.6 258.32L91.09 258.09L91.57 257.88L92.05 257.67L92.53 257.46L93.01 257.26L93.5 257.07L93.98 256.88L94.46 256.7L94.94 256.52L95.42 256.35L95.91 256.18L96.39 256.02L96.87 255.87L97.35 255.72L97.83 255.58L98.32 255.44L98.8 255.31L99.28 255.18L99.76 255.06L100.24 254.94L100.73 254.83L101.21 254.71L101.69 254.6L102.17 254.49L102.65 254.38L103.14 254.28L103.62 254.17L104.1 254.07L104.58 253.96L105.06 253.86L105.55 253.77L106.03 253.67L106.51 253.57L106.99 253.48L107.47 253.39L107.96 253.3L108.44 253.22L108.92 253.13L109.4 253.05L109.88 252.97L110.37 252.89L110.85 252.81L111.33 252.74L111.81 252.67L112.29 252.6L112.78 252.53L113.26 252.46L113.74 252.4L114.22 252.34L114.7 252.28L115.19 252.23L115.67 252.18L116.15 252.13L116.63 252.08L117.11 252.03L117.6 251.99L118.08 251.95L118.56 251.91L119.04 251.87L119.52 251.83L120.01 251.79L120.49 251.75L120.97 251.71L121.45 251.67L121.93 251.63L122.42 251.59L122.9 251.55L123.38 251.51L123.86 251.48L124.34 251.44L124.83 251.41L125.31 251.38L125.79 251.34L126.27 251.31L126.75 251.28L127.24 251.25L127.72 251.22L128.2 251.2L128.68 251.17L129.16 251.15L129.65 251.13L130.13 251.11L130.61 251.09L131.09 251.07L131.57 251.05L132.06 251.04L132.54 251.03L133.02 251.02L133.5 251.01L133.98 251L134.47 251L134.95 251L135.43 251L135.91 251L136.39 251L136.88 251L137.36 251L137.84 251L138.32 251L138.81 251L139.29 251L139.77 251L140.25 251L140.73 251L141.22 251L141.7 251L142.18 251L142.66 251L143.14 251L143.63 251L144.11 251L144.59 251L145.07 251L145.55 251L146.04 251L146.52 251L147 251L147.48 251L147.96 251L148.45 251L148.93 251L149.41 251L149.89 251L150.37 251L150.86 251L151.34 251L151.82 251L152.3 251L152.78 251L153.27 251L153.75 251L154.23 251.01L154.71 251.01L155.19 251.02L155.68 251.03L156.16 251.04L156.64 251.05L157.12 251.06L157.6 251.07L158.09 251.08L158.57 251.1L159.05 251.11L159.53 251.13L160.01 251.14L160.5 251.16L160.98 251.17L161.46 251.19L161.94 251.21L162.42 251.23L162.91 251.24L163.39 251.26L163.87 251.28L164.35 251.3L164.83 251.32L165.32 251.34L165.8 251.35L166.28 251.37L166.76 251.39L167.24 251.41L167.73 251.43L168.21 251.44L168.69 251.46L169.17 251.47L169.65 251.49L170.14 251.5L170.62 251.52L171.1 251.53L171.58 251.55L172.06 251.56L172.55 251.58L173.03 251.59L173.51 251.61L173.99 251.62L174.47 251.64L174.96 251.65L175.44 251.66L175.92 251.68L176.4 251.69L176.88 251.71L177.37 251.72L177.85 251.74L178.33 251.75L178.81 251.77L179.29 251.78L179.78 251.8L180.26 251.81L180.74 251.83L181.22 251.84L181.7 251.86L182.19 251.88L182.67 251.89L183.15 251.91L183.63 251.92L184.11 251.94L184.6 251.95L185.08 251.97L185.56 251.98L186.04 252L186.52 252.01L187.01 252.03L187.49 252.05L187.97 252.06L188.45 252.08L188.93 252.09L189.42 252.11L189.9 252.12L190.38 252.14L190.86 252.16L191.34 252.17L191.83 252.19L192.31 252.2L192.79 252.22L193.27 252.24L193.75 252.25L194.24 252.27L194.72 252.28L195.2 252.3" fill="none" stroke="#000" stroke-width="2.4" stroke-linejoin="round" stroke-linecap="butt"/>
<path d="M64.75 409.01L64.61 381.15L64.52 362.64L67.72 349.13L64.06 341.1L66.91 335.01L62.52 329.63L64.35 325.42L66.44 322.04L65.86 319.15L70.53 317.31L70.13 315.24L64.7 312.7L65.56 311.1L67.06 309.78L69.78 308.85L69.2 307.46L68.37 306.08L66.36 304.5L67.34 303.57L65.27 302L66.96 301.24L69.63 300.68L70.3 299.76L68 298.18L69.93 297.65L71.95 297.21L70.46 295.88L70.14 294.88L71.43 294.33L71.56 293.47L71.28 292.5L70.83 291.48L71.19 290.68L71.99 290L71.53 288.96L73.78 288.68L73.53 287.72L73.96 286.95L75.16 286.41L74.91 285.48L74.96 284.65L74.12 283.56L73.78 282.64L76.48 282.71L73.78 281.05L74.07 280.39L74.07 279.65L75.34 279.37L75.76 278.8L76.55 278.38L75.62 277.33L74.49 276.19L76.58 276.29L77.39 275.92L76.79 275.01L76.87 274.37L77.71 274.06L78.67 273.82L77.63 272.74L76.74 271.71L77.68 271.51L78.25 271.16L77.17 270.04L79.45 270.57L78.48 269.5L79.69 269.59L79.68 269.04L79.54 268.42L81.18 268.89L80.09 267.14L80.5 266.33L81.64 266.06L82.47 265.64L82.41 264.61L82.31 263.52L83.77 263.8L84.18 263.24L85.39 263.56L84.71 261.89L85.4 261.72L85.54 260.89L85.65 260.01L86.78 260.53L87.55 260.64L87.35 259.27L87.97 259.17L88.31 258.61L89.55 259.79L89.46 258.42L90.28 258.87L90.38 257.83L91.11 258.14L91.42 257.53L91.5 256.39L92.55 257.5L93.13 257.54L93.06 255.96L93.94 256.79L94.38 256.47L94.74 255.96L95.38 256.22L95.57 255.19L96.43 256.15L97.06 256.47L97.16 255.09L97.82 255.54L98.51 256.14L98.81 255.37L99.22 254.93L99.65 254.62L100.26 255.03L100.71 254.76L101.28 255.01L101.53 253.89L102.29 254.99L102.61 254.2L103.2 254.57L103.55 253.84L103.98 253.49L104.53 253.71L104.98 253.44L105.51 253.6L106.08 253.95L106.6 254.04L107.01 253.57L107.43 253.16L107.92 253.11L108.48 253.46L109 253.6L109.38 252.91L109.88 252.92L110.32 252.58L110.86 252.9L111.39 253.12L111.64 251.5L112.31 252.7L112.75 252.31L113.14 251.54L113.76 252.52L114.22 252.31L114.72 252.43L115.13 251.7L115.76 253L116.15 252.17L116.62 251.95L117.17 252.61L117.62 252.24L118.11 252.26L118.6 252.34L118.98 251.1L119.58 252.44L120 251.66L120.5 251.85L121 252.04L121.43 251.41L121.94 251.74L122.44 251.86L122.9 251.54L123.39 251.69L123.82 250.91L124.31 251.02L124.8 251L125.32 251.51L125.88 252.66L126.28 251.4L126.75 251.23L127.24 251.23L127.74 251.56L128.21 251.44L128.66 250.78L129.18 251.5L129.65 251.12L130.14 251.38L130.59 250.41L131.07 250.54L131.58 251.26L132.04 250.43L132.54 251.16L133.02 251.13L133.5 251.06L133.99 251.12L134.47 251.09L134.95 251.15L135.43 250.87L135.91 250.99L136.39 251.97L136.88 251.37L137.36 251.2L137.84 251.13L138.32 250.76L138.81 251.07L139.29 250.92L139.77 251.31L140.25 250.7L140.73 250.23L141.22 250.82L141.7 251.22L142.18 251.79L142.66 251.33L143.14 250.69L143.63 250.93L144.11 250.7L144.59 250.94L145.07 250.71L145.55 250.48L146.04 251.14L146.52 251.06L147 250.95L147.48 251.11L147.96 251.64L148.45 251.04L148.93 250.88L149.41 251.27L149.89 250.48L150.37 251.24L150.86 250.76L151.34 250.74L151.82 251.03L152.3 251.52L152.78 250.77L153.26 251.3L153.75 251.12L154.23 250.58L154.71 251.3L155.2 250.76L155.68 250.57L156.16 250.79L156.64 250.82L157.12 251.24L157.61 250.84L158.07 251.55L158.57 251.17L159.06 250.89L159.54 250.87L160.01 251.21L160.52 250.53L161 250.5L161.47 250.92L161.93 251.4L162.42 251.28L162.91 251.25L163.39 251.2L163.89 250.61L164.36 251.2L164.85 250.77L165.31 251.59L165.8 251.35L166.28 251.35L166.76 251.51L167.24 251.51L167.72 251.5L168.2 251.55L168.7 251.28L169.18 251.07L169.65 251.59L170.12 251.95L170.61 251.83L171.1 251.47L171.58 251.73L172.07 251.43L172.54 251.69L173.03 251.41L173.51 251.65L173.97 252.23L174.47 251.87L174.94 252.11L175.44 251.43L175.93 251.47L176.4 251.68L176.88 251.88L177.37 251.66L177.84 252.05L178.33 251.59L178.8 252.18L179.28 252.08L179.79 251.46L180.25 251.99L180.74 251.76L181.21 252.15L181.71 251.7L182.18 251.97L182.66 252.06L183.18 251.07L183.65 251.35L184.11 251.98L184.6 251.91L185.07 252.27L185.56 252.05L186.05 251.61L186.52 252.11L187.01 251.8L187.49 251.98L187.97 251.91L188.45 252.18L188.95 251.66L189.43 251.77L189.92 251.45L190.36 252.79L190.87 251.85L191.35 251.91L191.84 251.84L192.31 252.01L192.79 252.09L193.27 252.42L193.75 252.3L194.23 252.37L194.72 252.11L195.2 252.28" fill="none" stroke="#000" stroke-width="1.5" stroke-linejoin="round" stroke-linecap="butt"/>
<path d="M65.51 409.01L64.2 381.15L64.84 362.64L62.25 349.01L65.54 341.15L65.46 334.95L66.9 329.84L62.44 325.3L65.88 322L65.94 319.16L66.4 316.87L65.84 314.73L67 313.01L67.76 311.43L67.28 309.82L67.15 308.38L67.47 307.13L67.52 305.91L68.2 304.89L67.66 303.64L66.62 302.29L70.2 301.93L67.35 300.18L69.2 299.5L68.29 298.25L69.5 297.54L69.1 296.46L70.2 295.81L69.69 294.75L69.52 293.8L71.21 293.37L72.36 292.8L71.7 291.73L71.72 290.83L70.94 289.71L72.01 289.1L72.7 288.38L72 287.29L73.54 286.83L72.98 285.79L73.54 285.08L73.07 284.09L73.31 283.31L74.11 282.74L74.47 282.06L74.67 281.35L73.85 280.31L74.31 279.73L75.08 279.28L73.94 278.14L76.33 278.3L76.02 277.48L76.05 276.79L75.74 275.97L77.07 275.8L76.53 274.91L78.27 274.94L77.45 273.95L76.4 272.86L78.14 272.96L77.53 272.06L77.77 271.55L78.19 271.13L78.49 270.68L78.97 270.33L79.51 270.04L79.55 269.51L79.07 268.69L78.94 268.07L79.5 267.86L80.65 267.49L81.41 266.93L82.37 266.56L81.21 264.72L82.42 264.61L82.76 263.89L83.17 263.26L83.89 262.96L84.21 262.32L84.7 261.87L85.04 261.29L85.9 261.36L86.6 261.28L87.25 261.2L87.05 259.89L87.4 259.34L88.11 259.41L88.45 258.87L89.39 259.47L89.44 258.38L90.13 258.55L90.31 257.69L91 257.91L91.59 257.93L92.33 258.31L92.4 257.13L93.07 257.39L93.14 256.16L93.77 256.34L94.32 256.33L94.86 256.29L95.48 256.5L95.99 256.42L96.17 255.34L96.93 256.06L97.21 255.25L98.04 256.28L98.34 255.54L98.81 255.34L99.26 255.09L99.75 255.02L100.24 254.92L100.66 254.54L101.27 254.97L101.71 254.68L102.23 254.75L102.64 254.34L103.19 254.5L103.55 253.87L104.37 255.32L104.52 253.69L105.03 253.68L105.61 254.08L106.11 254.08L106.45 253.28L106.88 252.89L107.38 252.89L107.89 252.94L108.39 252.93L108.91 253.05L109.46 253.37L109.94 253.3L110.33 252.67L110.87 252.97L111.37 253L111.88 253.1L112.28 252.52L112.74 252.27L113.29 252.68L113.8 252.86L114.2 252.16L114.77 252.87L115.24 252.74L115.66 252.07L116.1 251.63L116.61 251.88L117.1 251.91L117.61 252.13L118.03 251.43L118.62 252.62L119.1 252.54L119.5 251.59L119.96 251.22L120.48 251.68L120.98 251.81L121.48 252.04L121.95 251.81L122.41 251.51L122.85 250.97L123.39 251.64L123.88 251.7L124.34 251.34L124.83 251.47L125.31 251.41L125.78 251.25L126.25 250.97L126.76 251.36L127.21 250.84L127.74 251.59L128.19 250.93L128.69 251.29L129.15 250.93L129.65 251.21L130.13 251.03L130.62 251.21L131.08 250.83L131.56 250.59L132.05 250.94L132.54 250.91L133.01 250.59L133.5 250.81L133.98 250.54L134.47 251.01L134.95 250.88L135.43 250.98L135.91 251.67L136.39 251.02L136.88 251.08L137.36 251.15L137.84 250.94L138.32 250.83L138.81 251.21L139.29 251.25L139.77 250.22L140.25 250.94L140.73 250.89L141.22 250.83L141.7 251.3L142.18 250.84L142.66 251.2L143.14 250.84L143.63 250.88L144.11 251.17L144.59 250.79L145.07 250.94L145.55 250.7L146.04 250.75L146.52 251.16L147 251.13L147.48 250.69L147.96 250.68L148.45 251.62L148.93 250.82L149.41 250.76L149.89 251.11L150.37 250.78L150.86 250.89L151.34 251.2L151.82 251.23L152.3 250.93L152.78 251.32L153.27 250.95L153.75 250.92L154.23 250.99L154.71 250.92L155.19 251.13L155.67 251.08L156.16 250.83L156.64 251.07L157.13 250.9L157.61 250.91L158.09 251.03L158.56 251.33L159.05 251.16L159.52 251.42L160 251.51L160.5 251.13L160.98 251.01L161.47 250.98L161.94 251.26L162.42 251.42L162.89 251.61L163.4 250.92L163.86 251.49L164.34 251.54L164.81 251.9L165.31 251.36L165.8 251.33L166.29 250.98L166.77 251.18L167.25 251.12L167.73 251.16L168.22 251.2L168.7 251.07L169.17 251.43L169.65 251.57L170.13 251.67L170.62 251.48L171.09 251.77L171.57 251.79L172.08 251.18L172.55 251.49L173.04 251.27L173.52 251.35L173.99 251.65L174.48 251.59L174.95 251.99L175.42 252.15L175.92 251.77L176.4 251.63L176.89 251.66L177.37 251.71L177.84 251.86L178.34 251.56L178.81 251.9L179.3 251.71L179.77 252.04L180.25 252.13L180.73 252.24L181.22 251.79L181.71 251.52L182.2 251.45L182.67 251.81L183.16 251.55L183.64 251.51L184.12 251.84L184.6 251.7L185.07 252.12L185.55 252.44L186.04 251.93L186.52 252.08L187.02 251.64L187.49 252.08L187.98 251.88L188.46 251.8L188.95 251.63L189.4 252.48L189.91 251.72L190.39 251.84L190.86 252.15L191.34 252.23L191.82 252.25L192.31 252.22L192.8 251.99L193.27 252.41L193.75 252.29L194.25 251.91L194.71 252.66L195.2 252.21" fill="none" stroke="#000" stroke-width="1.5" stroke-linejoin="round" stroke-linecap="butt"/>
<path d="M65.69 409.01L61.48 381.12L62.22 362.6L63.59 349.04L63.62 341.08L66.88 335.01L62.48 329.63L65.84 325.51L64.05 321.87L66.9 319.24L66.61 316.89L65.57 314.7L70.38 313.45L66.88 311.3L68.95 310.09L65.31 308.06L67.46 307.13L68.03 306.02L68.33 304.91L67.83 303.67L67.34 302.45L64.2 300.64L68.21 300.37L67.95 299.22L69.15 298.45L70.98 297.91L73.12 297.51L70.96 296.02L71.86 295.35L71.55 294.36L71.91 293.57L71.95 292.69L71.04 291.54L71.19 290.68L72.29 290.08L74.43 289.76L73.33 288.56L74.61 288.02L71.15 286.16L73.36 285.9L73.75 285.14L74.13 284.4L72.06 282.93L71.74 282L71.67 281.15L73.95 281.1L77.37 281.54L75.14 280.03L73.75 278.8L75.73 278.79L75.25 277.9L76.01 277.47L75.56 276.6L74.89 275.64L75.95 275.36L77.5 275.3L77.3 274.55L78.48 274.38L76.35 272.84L78.74 273.22L77.98 272.26L78.34 271.81L79.6 271.79L78.49 270.68L79.09 270.39L79.68 270.13L79.91 269.7L80.28 269.38L80.93 269.23L80.48 268.46L80.13 267.16L83 267.98L81.44 265.92L82.24 265.47L81.88 264.19L81.36 262.73L82.87 262.99L83.92 262.99L84.68 262.81L84.86 262.05L85.76 262.15L86.32 261.89L86.78 261.52L86.77 260.52L87.28 260.24L87.64 259.73L87.86 258.99L89.23 260.28L88.73 258.2L89.63 258.76L90.21 258.73L89.94 256.91L91.32 258.61L91.48 257.67L92.13 257.84L92.45 257.27L92.62 256.3L93.56 257.22L94.01 256.97L94.7 257.35L95.06 256.84L95.07 255.33L96.14 256.89L96.56 256.53L97.02 256.36L97.45 256.04L97.72 255.18L98.41 255.78L98.75 255.12L99.72 256.89L99.73 254.95L100.1 254.33L100.69 254.66L101.4 255.55L101.62 254.31L101.87 253.16L102.84 255.22L103.18 254.48L103.57 253.93L104.19 254.47L104.48 253.5L104.94 253.27L105.65 254.29L105.98 253.42L106.57 253.87L107 253.51L107.56 253.84L107.97 253.38L108.26 252.21L108.98 253.49L109.37 252.83L109.96 253.42L110.38 252.96L110.96 253.53L111.31 252.61L111.67 251.69L112.28 252.46L112.81 252.79L113.24 252.32L113.72 252.2L114.31 253.05L114.7 252.23L115.24 252.74L115.68 252.26L116.09 251.48L116.59 251.67L117.1 251.91L117.61 252.15L118.05 251.6L118.51 251.29L119.01 251.43L119.51 251.61L119.98 251.41L120.47 251.51L121.04 252.54L121.46 251.81L121.91 251.29L122.42 251.6L122.95 252.25L123.4 251.81L123.86 251.45L124.3 250.88L124.78 250.7L125.3 251.25L125.79 251.31L126.23 250.64L126.72 250.74L127.24 251.25L127.67 250.32L128.16 250.5L128.68 251.16L129.18 251.39L129.65 251.27L130.15 251.53L130.64 251.74L131.11 251.45L131.57 250.96L132.08 251.92L132.55 251.72L133.03 251.41L133.5 250.7L133.99 251.18L134.46 250.18L134.95 250.88L135.43 250.03L135.91 250.85L136.39 251.42L136.88 251.02L137.36 251.65L137.84 251.02L138.32 251.06L138.81 250.9L139.29 251.23L139.77 251.01L140.25 251.49L140.73 251.65L141.22 251.16L141.7 250.58L142.18 251.24L142.66 251.54L143.14 251.27L143.63 251.13L144.11 251.38L144.59 251.53L145.07 250.02L145.55 251.6L146.04 251.32L146.52 251.21L147 250.81L147.48 251.11L147.96 251.25L148.45 250.46L148.93 251.31L149.41 251.05L149.89 251.58L150.37 251.28L150.86 250.96L151.34 251.04L151.82 251.26L152.3 251.08L152.78 251.23L153.27 250.76L153.75 250.56L154.23 250.82L154.72 250.5L155.2 250.75L155.67 251.18L156.17 250.45L156.65 250.61L157.11 251.36L157.61 250.9L158.08 251.1L158.58 250.66L159.06 250.75L159.53 251.04L159.99 251.77L160.49 251.34L161 250.58L161.45 251.38L161.93 251.57L162.41 251.5L162.92 250.82L163.39 251.26L163.84 252.09L164.36 250.98L164.83 251.46L165.33 251.08L165.81 250.91L166.28 251.24L166.75 251.79L167.23 251.86L167.74 251.12L168.21 251.29L168.7 251.15L169.2 250.74L169.65 251.73L170.12 252.1L170.6 252.09L171.1 251.39L171.57 252.06L172.05 251.98L172.55 251.48L173.03 251.61L173.51 251.5L173.99 251.73L174.45 252.32L174.97 251.34L175.45 251.25L175.91 252.02L176.4 251.74L176.9 251.05L177.38 251.38L177.86 251.46L178.34 251.56L178.81 251.91L179.28 252.17L179.78 251.77L180.26 251.9L180.75 251.59L181.21 252.24L181.69 252.38L182.19 251.81L182.68 251.65L183.12 252.69L183.62 252.29L184.12 251.64L184.61 251.37L185.08 251.89L185.54 252.45L186.05 251.83L186.53 251.95L187.01 251.88L187.48 252.31L187.95 252.6L188.47 251.65L188.94 252.02L189.42 252.07L189.9 251.93L190.39 251.74L190.85 252.48L191.34 252.26L191.82 252.48L192.29 252.78L192.79 252.12L193.26 252.46L193.76 252.14L194.24 252.27L194.71 252.44L195.2 252.27" fill="none" stroke="#000" stroke-width="1.1" stroke-linejoin="round" stroke-linecap="butt"/>
<path d="M89 258.5L117.4 306.5" stroke="#000" stroke-width="1.3" fill="none"/>
<text xml:space="preserve"><tspan x="69.3" y="249.5" font-size="18">(d)</tspan></text>
<text xml:space="preserve"><tspan x="112.1" y="317.5" font-size="13">&lt;E&gt;</tspan></text>
<text xml:space="preserve"><tspan x="112.1" y="333.8" font-size="13" textLength="15.6" lengthAdjust="spacingAndGlyphs">&lt;E</tspan><tspan x="127.7" y="328.21" font-size="8.06" textLength="10.51" lengthAdjust="spacingAndGlyphs">(L)</tspan><tspan x="138.21" y="333.8" font-size="13" textLength="53.69" lengthAdjust="spacingAndGlyphs">&gt; = 52 eV</tspan></text>
<text xml:space="preserve"><tspan x="74.5" y="344.6" font-size="13">&lt;T&gt;</tspan></text>
<text xml:space="preserve"><tspan x="154.91" y="379.7" font-size="15">Xe</tspan><tspan x="172.4" y="383.75" font-size="9.6">1061</tspan></text>
<text xml:space="preserve"><tspan x="72.2" y="401.5" font-size="13" textLength="4.44" lengthAdjust="spacingAndGlyphs">I</tspan><tspan x="76.64" y="404.49" font-size="8.06" textLength="7.35" lengthAdjust="spacingAndGlyphs">M</tspan><tspan x="83.99" y="401.5" font-size="13" textLength="20.85" lengthAdjust="spacingAndGlyphs">=10</tspan><tspan x="104.83" y="395.91" font-size="8.06" textLength="8.26" lengthAdjust="spacingAndGlyphs">14</tspan><tspan x="113.1" y="401.5" font-size="13" textLength="31.96" lengthAdjust="spacingAndGlyphs"> Wcm</tspan><tspan x="145.05" y="395.91" font-size="8.06" textLength="6.88" lengthAdjust="spacingAndGlyphs">-2</tspan><tspan x="151.94" y="401.5" font-size="13" textLength="39.16" lengthAdjust="spacingAndGlyphs"> τ=10fs</tspan></text>
<rect x="246.7" y="228.7" width="131.9" height="180.7" fill="none" stroke="#000" stroke-width="2.2"/>
<path d="M246.7 409.4v5.6M246.7 228.7v-5.6M263.19 409.4v5.6M263.19 228.7v-5.6M279.68 409.4v5.6M279.68 228.7v-5.6M296.16 409.4v5.6M296.16 228.7v-5.6M312.65 409.4v5.6M312.65 228.7v-5.6M329.14 409.4v5.6M329.14 228.7v-5.6M345.62 409.4v5.6M345.62 228.7v-5.6M362.11 409.4v5.6M362.11 228.7v-5.6M378.6 409.4v5.6M378.6 228.7v-5.6M246.7 409.4h-5.6M378.6 409.4h5.6M246.7 389.32h-5.6M378.6 389.32h5.6M246.7 369.24h-5.6M378.6 369.24h5.6M246.7 349.17h-5.6M378.6 349.17h5.6M246.7 329.09h-5.6M378.6 329.09h5.6M246.7 309.01h-5.6M378.6 309.01h5.6M246.7 288.93h-5.6M378.6 288.93h5.6M246.7 268.86h-5.6M378.6 268.86h5.6M246.7 248.78h-5.6M378.6 248.78h5.6M246.7 228.7h-5.6M378.6 228.7h5.6" stroke="#000" stroke-width="2.2" fill="none"/>
<text x="246.7" y="432.9" font-size="17.3" text-anchor="middle">-0.2</text>
<text x="279.68" y="432.9" font-size="17.3" text-anchor="middle">0.0</text>
<text x="312.65" y="432.9" font-size="17.3" text-anchor="middle">0.2</text>
<text x="345.62" y="432.9" font-size="17.3" text-anchor="middle">0.4</text>
<text x="378.6" y="432.9" font-size="17.3" text-anchor="middle">0.6</text>
<text x="239.3" y="415.4" font-size="17.3" text-anchor="end">0</text>
<text x="239.3" y="375.24" font-size="17.3" text-anchor="end">20</text>
<text x="239.3" y="335.09" font-size="17.3" text-anchor="end">40</text>
<text x="239.3" y="294.93" font-size="17.3" text-anchor="end">60</text>
<text x="239.3" y="254.78" font-size="17.3" text-anchor="end">80</text>
<path d="M254 409L254.31 408.89L254.62 408.77L254.93 408.62L255.25 408.46L255.56 408.29L255.87 408.1L256.18 407.89L256.49 407.68L256.8 407.45L257.11 407.21L257.42 406.97L257.74 406.72L258.05 406.46L258.36 406.18L258.67 405.86L258.98 405.52L259.29 405.16L259.6 404.77L259.91 404.36L260.23 403.95L260.54 403.52L260.85 403.09L261.16 402.65L261.47 402.22L261.78 401.79L262.09 401.38L262.4 400.96L262.72 400.53L263.03 400.1L263.34 399.66L263.65 399.22L263.96 398.78L264.27 398.33L264.58 397.87L264.89 397.41L265.21 396.94L265.52 396.47L265.83 396L266.14 395.52L266.45 395.04L266.76 394.55L267.07 394.06L267.38 393.56L267.7 393.05L268.01 392.53L268.32 391.99L268.63 391.45L268.94 390.9L269.25 390.36L269.56 389.81L269.88 389.26L270.19 388.69L270.5 388.09L270.81 387.47L271.12 386.81L271.43 386.1L271.74 385.35L272.05 384.52L272.37 383.59L272.68 382.58L272.99 381.49L273.3 380.35L273.61 379.15L273.92 377.93L274.23 376.68L274.54 375.41L274.86 374.07L275.17 372.66L275.48 371.19L275.79 369.69L276.1 368.15L276.41 366.6L276.72 365.05L277.03 363.51L277.35 361.99L277.66 360.46L277.97 358.93L278.28 357.39L278.59 355.84L278.9 354.29L279.21 352.73L279.52 351.16L279.84 349.59L280.15 348.02L280.46 346.44L280.77 344.87L281.08 343.29L281.39 341.7L281.7 340.12L282.02 338.54L282.33 336.96L282.64 335.36L282.95 333.76L283.26 332.14L283.57 330.52L283.88 328.89L284.19 327.27L284.51 325.64L284.82 324.02L285.13 322.41L285.44 320.82L285.75 319.23L286.06 317.66L286.37 316.11L286.68 314.59L287 313.06L287.31 311.52L287.62 309.98L287.93 308.44L288.24 306.91L288.55 305.4L288.86 303.9L289.17 302.43L289.49 300.99L289.8 299.59L290.11 298.23L290.42 296.92L290.73 295.66L291.04 294.46L291.35 293.32L291.66 292.23L291.98 291.18L292.29 290.16L292.6 289.16L292.91 288.18L293.22 287.19L293.53 286.2L293.84 285.19L294.15 284.16L294.47 283.14L294.78 282.12L295.09 281.1L295.4 280.08L295.71 279.06L296.02 278.04L296.33 277.02L296.65 275.99L296.96 274.96L297.27 273.92L297.58 272.88L297.89 271.84L298.2 270.8L298.51 269.76L298.82 268.72L299.14 267.68L299.45 266.64L299.76 265.53L300.07 264.37L300.38 263.22L300.69 262.16L301 261.26L301.31 260.56L301.63 259.92L301.94 259.4L302.25 259.12L302.56 259.05L302.87 259.01L303.18 258.97L303.49 258.94L303.8 258.92L304.12 258.91L304.43 258.9L304.74 258.9L305.05 258.93L305.36 258.96L305.67 259L305.98 259.06L306.29 259.12L306.61 259.19L306.92 259.26L307.23 259.33L307.54 259.41L307.85 259.48L308.16 259.54L308.47 259.6L308.78 259.65L309.1 259.7L309.41 259.75L309.72 259.8L310.03 259.85L310.34 259.9L310.65 259.95L310.96 260L311.28 260.04L311.59 260.09L311.9 260.14L312.21 260.19L312.52 260.24L312.83 260.28L313.14 260.33L313.45 260.38L313.77 260.43L314.08 260.47L314.39 260.52L314.7 260.57L315.01 260.62L315.32 260.67L315.63 260.71L315.94 260.76L316.26 260.81L316.57 260.86L316.88 260.92L317.19 260.97L317.5 261.02L317.81 261.07L318.12 261.12L318.43 261.17L318.75 261.22L319.06 261.27L319.37 261.32L319.68 261.37L319.99 261.42L320.3 261.47L320.61 261.51L320.92 261.56L321.24 261.61L321.55 261.65L321.86 261.69L322.17 261.73L322.48 261.77L322.79 261.81L323.1 261.85L323.42 261.88L323.73 261.91L324.04 261.95L324.35 261.98L324.66 262.01L324.97 262.04L325.28 262.08L325.59 262.11L325.91 262.14L326.22 262.17L326.53 262.2L326.84 262.23L327.15 262.26L327.46 262.29L327.77 262.31L328.08 262.34L328.4 262.36L328.71 262.39L329.02 262.41L329.33 262.43L329.64 262.44L329.95 262.46L330.26 262.47L330.57 262.49L330.89 262.5L331.2 262.51L331.51 262.51L331.82 262.52L332.13 262.53L332.44 262.54L332.75 262.54L333.06 262.55L333.38 262.56L333.69 262.57L334 262.57L334.31 262.58L334.62 262.59L334.93 262.59L335.24 262.6L335.55 262.6L335.87 262.61L336.18 262.62L336.49 262.62L336.8 262.63L337.11 262.63L337.42 262.64L337.73 262.64L338.05 262.65L338.36 262.65L338.67 262.66L338.98 262.66L339.29 262.66L339.6 262.67L339.91 262.67L340.22 262.67L340.54 262.68L340.85 262.68L341.16 262.68L341.47 262.69L341.78 262.69L342.09 262.69L342.4 262.69L342.71 262.69L343.03 262.7L343.34 262.7L343.65 262.7L343.96 262.7L344.27 262.7L344.58 262.7L344.89 262.7L345.2 262.7L345.52 262.7L345.83 262.7L346.14 262.7L346.45 262.7L346.76 262.7L347.07 262.7L347.38 262.7L347.69 262.69L348.01 262.69L348.32 262.69L348.63 262.69L348.94 262.69L349.25 262.69L349.56 262.68L349.87 262.68L350.18 262.68L350.5 262.68L350.81 262.67L351.12 262.67L351.43 262.67L351.74 262.67L352.05 262.67L352.36 262.66L352.68 262.66L352.99 262.66L353.3 262.65L353.61 262.65L353.92 262.65L354.23 262.65L354.54 262.64L354.85 262.64L355.17 262.64L355.48 262.64L355.79 262.63L356.1 262.63L356.41 262.63L356.72 262.62L357.03 262.62L357.34 262.62L357.66 262.62L357.97 262.61L358.28 262.61L358.59 262.61L358.9 262.61L359.21 262.61L359.52 262.6L359.83 262.6L360.15 262.6L360.46 262.6L360.77 262.6L361.08 262.59L361.39 262.59L361.7 262.59L362.01 262.59L362.32 262.59L362.64 262.58L362.95 262.58L363.26 262.58L363.57 262.58L363.88 262.58L364.19 262.58L364.5 262.57L364.82 262.57L365.13 262.57L365.44 262.57L365.75 262.57L366.06 262.56L366.37 262.56L366.68 262.56L366.99 262.56L367.31 262.56L367.62 262.56L367.93 262.55L368.24 262.55L368.55 262.55L368.86 262.55L369.17 262.55L369.48 262.55L369.8 262.54L370.11 262.54L370.42 262.54L370.73 262.54L371.04 262.54L371.35 262.54L371.66 262.53L371.97 262.53L372.29 262.53L372.6 262.53L372.91 262.53L373.22 262.53L373.53 262.52L373.84 262.52L374.15 262.52L374.46 262.52L374.78 262.52L375.09 262.52L375.4 262.51L375.71 262.51L376.02 262.51L376.33 262.51L376.64 262.51L376.95 262.51L377.27 262.5L377.58 262.5L377.89 262.5L378.2 262.5" fill="none" stroke="#000" stroke-width="2.6" stroke-linejoin="round" stroke-linecap="butt"/>
<path d="M253.65 407.99L254.73 410.01L254.69 408.93L254.58 407.91L254.49 407.06L255.58 408.33L256.17 408.57L256.64 408.58L257.01 408.41L256.67 407.27L257.45 407.65L256.74 406.12L257.85 406.86L258.54 407.03L258.09 405.9L258.63 405.83L259.09 405.62L259.42 405.26L260.53 405.5L259.32 403.92L261.09 404.58L259.83 403.01L260.5 402.83L260.74 402.35L261.47 402.22L261.54 401.61L262.44 401.63L262.47 401L264.11 401.54L263.32 400.31L263.24 399.59L263.93 399.42L264.38 399.07L264.21 398.28L263.95 397.44L264.45 397.11L265.37 397.06L266.1 396.86L266.19 396.24L266.14 395.52L266.86 395.31L266.51 394.39L267.3 394.2L268.35 394.15L268.47 393.52L268.94 393.08L268.14 391.89L268.82 391.56L268.34 390.56L269.91 390.73L269.34 389.69L269.07 388.81L269.91 388.54L270.73 388.21L269.38 386.78L270.21 386.39L272.17 386.42L271.87 385.4L272.08 384.53L271.28 383.24L273.88 382.93L273.79 381.72L273.87 380.5L272.86 378.96L274.4 378.05L275.13 376.9L274.37 375.36L274.74 374.04L274.88 372.6L275.98 371.3L275.68 369.67L275.93 368.12L275.4 366.4L275.56 364.82L277.79 363.66L278.56 362.24L278.35 360.61L279.07 359.16L277.94 357.32L278.61 355.85L279.24 354.36L279.15 352.72L280.81 351.42L278.92 349.41L279.78 347.95L280.26 346.41L280.31 344.77L281.76 343.42L279.98 341.43L282.6 340.3L282.74 338.68L282.62 337.01L283.72 335.57L284.74 334.1L283.45 332.18L284.17 330.63L284.23 328.96L284.64 327.35L284.2 325.58L284.35 323.93L285.64 322.51L285.12 320.75L286.5 319.38L286.71 317.79L286.11 316.06L287.02 314.66L287.12 313.08L287.28 311.51L288.52 310.16L288.03 308.46L288.48 306.96L287.2 305.12L289.37 304.01L288.19 302.22L289.28 300.95L291.05 299.87L291.48 298.55L290.21 296.87L289.89 295.45L291.41 294.56L291.14 293.26L291.98 292.32L291.08 290.91L293.16 290.43L293.78 289.53L291.95 287.87L292.74 287.04L293.11 286.07L294.44 285.37L292.82 283.75L294.69 283.21L294.69 282.09L294.6 280.95L295.98 280.26L294.39 278.66L295.12 277.77L295.85 276.87L297.23 276.17L296.78 274.9L296.75 273.76L298 273.01L297.62 271.76L297.82 270.69L298.37 269.72L299.15 268.82L301.15 268.29L298.74 266.44L300.04 265.61L300.04 264.36L300.28 263.19L301.86 262.53L301.63 261.5L301.85 260.81L301.41 259.81L301.51 259.07L302.4 259.39L302.54 258.93L302.83 258.67L303.25 259.56L303.43 258.13L303.78 258.47L304.12 259.18L304.43 258.91L304.73 259.14L305.07 258.71L305.33 259.21L305.7 258.83L305.9 259.5L306.24 259.39L306.57 259.37L306.8 259.75L307.2 259.48L307.57 259.26L307.75 259.97L308.13 259.68L308.4 260L308.77 259.73L309.03 260.08L309.44 259.54L309.77 259.47L310.09 259.48L310.3 260.17L310.74 259.41L311.04 259.51L311.33 259.67L311.57 260.21L311.87 260.32L312.24 259.99L312.48 260.52L312.81 260.42L313.08 260.74L313.4 260.7L313.79 260.27L314.06 260.58L314.39 260.52L314.67 260.75L314.99 260.72L315.31 260.72L315.59 260.97L315.93 260.83L316.21 261.08L316.56 260.92L316.88 260.92L317.14 261.29L317.45 261.35L317.74 261.48L318.08 261.35L318.44 261.16L318.73 261.33L319.04 261.37L319.44 260.85L319.72 261.09L319.91 261.92L320.3 261.5L320.73 260.72L320.92 261.57L321.22 261.7L321.59 261.33L321.76 262.41L322.12 262.11L322.45 262.06L322.79 261.8L323.08 262.04L323.38 262.18L323.71 262.1L324.05 261.79L324.34 262.08L324.65 262.1L324.96 262.18L325.31 261.81L325.58 262.23L325.9 262.19L326.21 262.29L326.52 262.31L326.87 261.85L327.12 262.56L327.44 262.55L327.8 261.96L328.08 262.35L328.41 262.15L328.71 262.29L329 262.75L329.32 262.63L329.61 263.08L329.95 262.53L330.28 262.18L330.57 262.56L330.91 261.81L331.18 263.08L331.51 262.63L331.82 262.69L332.13 262.61L332.45 262.32L332.75 262.54L333.07 262.35L333.38 262.44L333.68 262.7L334.01 262.24L334.3 263.1L334.63 262.29L334.93 262.87L335.25 262.43L335.56 262.26L335.86 262.75L336.18 262.69L336.49 262.57L336.8 262.63L337.11 262.46L337.42 262.78L337.74 262.51L338.04 262.67L338.35 263L338.67 262.27L338.98 262.5L339.29 262.47L339.6 262.44L339.92 262.28L340.22 262.6L340.53 262.73L340.85 262.65L341.16 262.21L341.47 262.89L341.78 262.9L342.09 262.72L342.4 262.4L342.72 262.44L343.02 263.28L343.33 263.21L343.65 262.84L343.96 262.43L344.27 263.08L344.58 262.75L344.89 263.2L345.2 262.53L345.52 262.84L345.83 262.64L346.14 262.92L346.45 262.51L346.76 262.97L347.07 262.58L347.38 262.43L347.7 262.86L348.01 262.76L348.31 262.06L348.63 262.68L348.94 262.72L349.25 262.74L349.57 263.29L349.87 262.49L350.18 262.68L350.49 262.17L350.8 262.24L351.12 262.5L351.43 262.63L351.74 262.61L352.05 262.86L352.37 262.88L352.68 262.96L352.99 262.61L353.3 262.8L353.61 262.44L353.92 262.76L354.23 262.79L354.54 262.49L354.85 261.68L355.16 262.44L355.48 263.4L355.79 262.6L356.1 262.44L356.41 262.66L356.72 262.96L357.03 262.72L357.34 262.56L357.65 262.23L357.97 262.52L358.28 262.25L358.59 262.71L358.9 263.06L359.21 262.92L359.52 262.42L359.83 262.31L360.14 262.18L360.46 262.73L360.77 262.76L361.08 262.83L361.39 262.69L361.7 262.23L362.01 262.01L362.33 262.92L362.63 262.33L362.95 263.15L363.25 261.95L363.57 262.24L363.88 262.29L364.19 262.65L364.5 262.77L364.81 262.4L365.13 262.74L365.44 262.17L365.75 262.41L366.06 262.2L366.37 262.39L366.68 262.36L366.99 262.64L367.31 263.58L367.61 262.14L367.93 262.49L368.24 262.75L368.55 262.57L368.86 262.97L369.17 262.23L369.49 262.77L369.79 262.3L370.11 262.78L370.42 262.58L370.73 262.61L371.04 262.35L371.35 261.97L371.66 262.2L371.98 262.74L372.29 262.44L372.6 262.74L372.91 262.12L373.22 262.71L373.53 262.82L373.84 261.85L374.15 262.61L374.47 263.09L374.77 262.28L375.09 262.81L375.4 262.52L375.71 262.76L376.02 262.39L376.33 262.27L376.64 262.37L376.95 262.39L377.27 262.32L377.58 262.23L377.89 262.83L378.2 262.32" fill="none" stroke="#000" stroke-width="1.3" stroke-linejoin="round" stroke-linecap="butt"/>
<path d="M253.76 408.31L254.11 408.36L254.74 409.03L254.34 407.41L255.38 408.72L255.77 408.65L256.27 408.74L256.03 407.67L256.2 407.27L256.86 407.53L257.16 407.28L257.91 407.58L257.75 406.74L257.88 406.26L257.8 405.6L258.57 405.77L259.01 405.55L259.83 405.6L259.65 404.81L260.56 404.85L260.82 404.39L260.16 403.25L260.29 402.69L260.85 402.43L261.35 402.14L261.39 401.5L262.43 401.62L262.73 401.19L263.3 400.95L263.16 400.2L263.12 399.51L263.85 399.36L263.51 398.46L264.34 398.38L264.2 397.61L265.47 397.8L263.88 396.06L265.94 396.75L266.27 396.29L266.12 395.51L266.62 395.15L266.87 394.62L267.73 394.47L268.23 394.08L267.7 393.05L268.85 393.02L267.98 391.8L268.85 391.57L269.17 391.03L268.6 389.98L269.73 389.91L269.53 389.07L270.61 388.91L270.02 387.85L269.85 387.01L270.41 386.48L271.44 386.11L271.92 385.41L272.25 384.58L271.93 383.45L273.13 382.71L272.67 381.4L273.17 380.31L274.18 379.3L273.83 377.9L273.14 376.4L274.96 375.51L274.86 374.07L274.94 372.61L276.23 371.35L275.42 369.61L276.48 368.23L276.49 366.62L278.25 365.36L275.98 363.29L277.46 362.01L277.86 360.51L278.61 359.06L278.03 357.34L278.22 355.77L279.72 354.45L278.96 352.68L279.69 351.2L279.8 349.59L280.37 348.07L279.66 346.29L280.45 344.8L281.05 343.28L281.45 341.72L282.35 340.25L282.31 338.6L282.66 337.02L282.6 335.36L283.69 333.9L282.9 332.07L283.51 330.51L283 328.72L283.57 327.15L285 325.74L284.79 324.02L284.03 322.2L285.41 320.81L285.61 319.2L285.39 317.53L286.57 316.15L286.52 314.56L287 313.06L287.86 311.63L287.25 309.91L288.56 308.57L288.08 306.88L288.4 305.37L289.61 304.06L289.39 302.48L289.24 300.94L289.72 299.57L290.23 298.26L289.57 296.71L291.11 295.76L291.04 294.46L290.6 293.11L291.12 292.07L292.47 291.33L291.56 289.94L293.82 289.55L292.29 287.98L293.33 287.23L292.06 285.74L293.8 285.17L293.85 284.07L294.73 283.22L294.88 282.15L294.89 281.04L296.62 280.46L296.14 279.2L295.59 277.91L296.52 277.08L294.97 275.48L296.61 274.85L297.97 274.13L297.24 272.78L297.95 271.86L297.52 270.6L298.94 269.89L298.87 268.74L299.11 267.68L299.96 266.79L300.68 265.79L300.51 264.49L299.36 262.93L300.89 262.22L301.13 261.3L300.67 260.26L300.75 259.45L301.72 259.23L302.15 258.93L302.55 258.98L302.81 258.54L303.19 259.03L303.5 259.08L303.79 258.71L304.12 258.98L304.43 258.75L304.75 258.51L305.05 258.91L305.34 259.15L305.57 259.63L306.08 258.54L306.32 258.99L306.66 258.97L306.91 259.31L307.28 259.12L307.54 259.42L307.8 259.69L308.2 259.35L308.48 259.56L308.72 260.02L309.06 259.89L309.47 259.35L309.64 260.28L310.06 259.67L310.33 259.96L310.67 259.84L310.98 259.88L311.3 259.87L311.57 260.23L311.93 259.94L312.26 259.88L312.54 260.09L312.83 260.27L313.22 259.84L313.43 260.56L313.79 260.24L314.05 260.63L314.34 260.84L314.69 260.63L314.99 260.73L315.34 260.55L315.66 260.54L316.02 260.3L316.26 260.76L316.59 260.72L316.97 260.34L317.18 261.02L317.44 261.37L317.8 261.15L318.08 261.38L318.45 261.1L318.79 260.97L319.06 261.28L319.38 261.23L319.72 261.09L319.95 261.65L320.3 261.5L320.64 261.35L320.92 261.6L321.24 261.56L321.53 261.79L321.81 262.06L322.19 261.58L322.52 261.48L322.75 262.13L323.04 262.41L323.43 261.73L323.75 261.69L324.07 261.65L324.35 261.97L324.66 262.03L324.98 261.97L325.26 262.27L325.61 261.9L325.92 261.99L326.25 261.86L326.5 262.52L326.82 262.48L327.12 262.56L327.48 262.08L327.75 262.63L328.08 262.4L328.38 262.53L328.7 262.52L329.02 262.32L329.33 262.38L329.66 262.07L329.96 262.32L330.27 262.41L330.58 262.2L330.89 262.51L331.19 262.81L331.51 262.39L331.83 262.28L332.14 262.32L332.44 262.58L332.74 262.96L333.06 262.59L333.38 262.57L333.69 262.26L334 262.65L334.31 262.72L334.62 262.48L334.93 262.58L335.25 262.43L335.55 262.78L335.86 262.92L336.18 262.7L336.49 262.74L336.8 262.63L337.11 262.47L337.43 262.45L337.74 262.54L338.04 262.67L338.36 262.64L338.66 262.89L338.98 262.83L339.29 263.01L339.6 262.85L339.91 262.61L340.22 262.69L340.54 262.28L340.84 263.08L341.16 262.54L341.47 262.58L341.78 263.12L342.09 262.43L342.4 262.54L342.71 262.68L343.03 262.55L343.34 262.71L343.65 262.75L343.96 262.85L344.27 262.67L344.58 262.86L344.89 262.62L345.2 262.84L345.52 262.98L345.83 262.28L346.14 262.64L346.45 262.74L346.76 262.24L347.07 261.96L347.38 262.77L347.69 262.54L348.01 262.88L348.32 262.69L348.63 262.68L348.94 262.6L349.25 262.71L349.56 262.46L349.87 262.56L350.19 262.86L350.5 262.61L350.81 262.79L351.12 262.67L351.43 262.59L351.74 262.43L352.05 262.86L352.36 262.46L352.68 262.75L352.98 262.28L353.3 262.72L353.61 262.74L353.92 262.49L354.23 262.26L354.54 262.6L354.85 262.66L355.16 262.51L355.48 262.47L355.79 262.85L356.1 262.6L356.41 262.53L356.72 262.82L357.03 262.61L357.34 262.45L357.66 262.82L357.97 262.53L358.28 262.83L358.59 262.45L358.9 262.68L359.21 262.9L359.52 262.71L359.84 262.72L360.15 262.7L360.46 262.8L360.77 262.61L361.08 262.7L361.39 262.54L361.7 263.05L362.01 262.38L362.33 262.78L362.63 262.35L362.95 262.71L363.26 262.89L363.57 262.32L363.88 262.99L364.19 262.34L364.5 262.38L364.82 262.65L365.12 262.31L365.44 262.8L365.75 262.68L366.06 261.92L366.37 262.22L366.68 262.39L366.99 262.66L367.3 262.3L367.62 262.38L367.93 262.7L368.24 262.31L368.55 262.62L368.86 262.22L369.17 262.78L369.49 262.88L369.79 262.27L370.1 261.98L370.42 262.14L370.73 262.76L371.04 262.4L371.35 262.78L371.66 262.21L371.97 262.3L372.29 262.5L372.6 262.78L372.91 262.47L373.22 262.28L373.53 262.59L373.84 262.54L374.15 262.63L374.46 262.47L374.78 262.36L375.09 262.51L375.4 261.92L375.71 262.57L376.02 262.8L376.33 262.63L376.64 262.28L376.95 262.14L377.27 262.81L377.58 262.38L377.89 262.44L378.2 262.55" fill="none" stroke="#000" stroke-width="1.3" stroke-linejoin="round" stroke-linecap="butt"/>
<path d="M264 409L264.38 408.99L264.76 408.96L265.15 408.92L265.53 408.86L265.91 408.79L266.29 408.71L266.67 408.61L267.06 408.51L267.44 408.4L267.82 408.28L268.2 408.15L268.58 408.02L268.97 407.88L269.35 407.74L269.73 407.6L270.11 407.45L270.49 407.3L270.87 407.14L271.26 406.95L271.64 406.74L272.02 406.51L272.4 406.25L272.78 405.98L273.17 405.7L273.55 405.4L273.93 405.1L274.31 404.79L274.69 404.47L275.08 404.14L275.46 403.8L275.84 403.42L276.22 403.02L276.6 402.57L276.99 402.09L277.37 401.55L277.75 400.9L278.13 400.11L278.51 399.2L278.9 398.21L279.28 397.18L279.66 396.14L280.04 395.13L280.42 394.09L280.81 393.02L281.19 391.92L281.57 390.79L281.95 389.66L282.33 388.51L282.72 387.35L283.1 386.19L283.48 385.03L283.86 383.86L284.24 382.67L284.62 381.48L285.01 380.28L285.39 379.06L285.77 377.84L286.15 376.59L286.53 375.34L286.92 374.06L287.3 372.77L287.68 371.47L288.06 370.15L288.44 368.82L288.83 367.49L289.21 366.15L289.59 364.8L289.97 363.43L290.35 362.06L290.74 360.67L291.12 359.27L291.5 357.85L291.88 356.41L292.26 354.96L292.65 353.48L293.03 351.99L293.41 350.47L293.79 348.93L294.17 347.37L294.56 345.78L294.94 344.16L295.32 342.52L295.7 340.76L296.08 338.86L296.46 336.89L296.85 334.92L297.23 333.01L297.61 331.23L297.99 329.63L298.37 328.15L298.76 326.74L299.14 325.39L299.52 324.1L299.9 322.85L300.28 321.65L300.67 320.49L301.05 319.37L301.43 318.26L301.81 317.16L302.19 316.09L302.58 315.03L302.96 313.98L303.34 312.96L303.72 311.95L304.1 310.97L304.49 310L304.87 309.05L305.25 308.12L305.63 307.22L306.01 306.33L306.4 305.47L306.78 304.63L307.16 303.82L307.54 303.02L307.92 302.25L308.31 301.5L308.69 300.77L309.07 300.04L309.45 299.34L309.83 298.65L310.21 297.97L310.6 297.32L310.98 296.69L311.36 296.08L311.74 295.49L312.12 294.93L312.51 294.39L312.89 293.87L313.27 293.38L313.65 292.91L314.03 292.44L314.42 291.99L314.8 291.54L315.18 291.1L315.56 290.68L315.94 290.26L316.33 289.85L316.71 289.45L317.09 289.06L317.47 288.68L317.85 288.31L318.24 287.94L318.62 287.59L319 287.25L319.38 286.91L319.76 286.58L320.15 286.26L320.53 285.95L320.91 285.65L321.29 285.35L321.67 285.07L322.05 284.79L322.44 284.52L322.82 284.25L323.2 283.99L323.58 283.74L323.96 283.49L324.35 283.24L324.73 283.01L325.11 282.77L325.49 282.54L325.87 282.32L326.26 282.1L326.64 281.89L327.02 281.68L327.4 281.47L327.78 281.27L328.17 281.08L328.55 280.88L328.93 280.69L329.31 280.51L329.69 280.32L330.08 280.14L330.46 279.97L330.84 279.79L331.22 279.62L331.6 279.45L331.99 279.28L332.37 279.11L332.75 278.95L333.13 278.79L333.51 278.63L333.89 278.47L334.28 278.32L334.66 278.17L335.04 278.02L335.42 277.87L335.8 277.73L336.19 277.59L336.57 277.46L336.95 277.32L337.33 277.2L337.71 277.07L338.1 276.95L338.48 276.84L338.86 276.72L339.24 276.62L339.62 276.51L340.01 276.41L340.39 276.31L340.77 276.21L341.15 276.12L341.53 276.02L341.92 275.93L342.3 275.84L342.68 275.75L343.06 275.66L343.44 275.57L343.83 275.49L344.21 275.41L344.59 275.32L344.97 275.24L345.35 275.17L345.74 275.09L346.12 275.01L346.5 274.93L346.88 274.86L347.26 274.78L347.64 274.71L348.03 274.64L348.41 274.57L348.79 274.49L349.17 274.42L349.55 274.35L349.94 274.28L350.32 274.21L350.7 274.15L351.08 274.08L351.46 274.01L351.85 273.94L352.23 273.87L352.61 273.8L352.99 273.74L353.37 273.67L353.76 273.6L354.14 273.53L354.52 273.46L354.9 273.39L355.28 273.32L355.67 273.25L356.05 273.19L356.43 273.12L356.81 273.05L357.19 272.98L357.58 272.91L357.96 272.85L358.34 272.78L358.72 272.72L359.1 272.65L359.48 272.59L359.87 272.52L360.25 272.46L360.63 272.39L361.01 272.33L361.39 272.27L361.78 272.21L362.16 272.15L362.54 272.09L362.92 272.03L363.3 271.98L363.69 271.92L364.07 271.86L364.45 271.81L364.83 271.76L365.21 271.7L365.6 271.65L365.98 271.6L366.36 271.55L366.74 271.51L367.12 271.46L367.51 271.41L367.89 271.36L368.27 271.31L368.65 271.27L369.03 271.22L369.42 271.18L369.8 271.13L370.18 271.09L370.56 271.04L370.94 271L371.33 270.96L371.71 270.92L372.09 270.87L372.47 270.83L372.85 270.79L373.23 270.75L373.62 270.71L374 270.68L374.38 270.64L374.76 270.6L375.14 270.56L375.53 270.53L375.91 270.49L376.29 270.46L376.67 270.43L377.05 270.39L377.44 270.36L377.82 270.33L378.2 270.3" fill="none" stroke="#000" stroke-width="2.2" stroke-linejoin="round" stroke-linecap="butt"/>
<text xml:space="preserve"><tspan x="252.6" y="249.5" font-size="18">(e)</tspan></text>
<text xml:space="preserve"><tspan x="303.3" y="250.7" font-size="13">E</tspan><tspan x="311.24" y="254.34" font-size="8.06">M</tspan><tspan x="311.54" y="245.11" font-size="7.66">(L)</tspan></text>
<text xml:space="preserve"><tspan x="326.8" y="250.7" font-size="13">= 73keV</tspan></text>
<text xml:space="preserve"><tspan x="268.4" y="309.9" font-size="13">E</tspan><tspan x="276.34" y="313.54" font-size="8.06">M</tspan></text>
<text xml:space="preserve"><tspan x="305.9" y="323" font-size="13">T</tspan><tspan x="313.84" y="326.64" font-size="8.06">M</tspan></text>
<text xml:space="preserve"><tspan x="336.26" y="361.2" font-size="15.3">Xe</tspan><tspan x="354.1" y="364.57" font-size="10.25">6099</tspan></text>
<text xml:space="preserve"><tspan x="333.3" y="382.8" font-size="13" textLength="41.5" lengthAdjust="spacingAndGlyphs">τ=230fs</tspan></text>
<text xml:space="preserve"><tspan x="284.3" y="401.3" font-size="13" textLength="4.41" lengthAdjust="spacingAndGlyphs">I</tspan><tspan x="288.71" y="404.29" font-size="8.06" textLength="7.3" lengthAdjust="spacingAndGlyphs">M</tspan><tspan x="296" y="401.3" font-size="13" textLength="31.72" lengthAdjust="spacingAndGlyphs">=5·10</tspan><tspan x="327.73" y="395.71" font-size="8.06" textLength="8.21" lengthAdjust="spacingAndGlyphs">14</tspan><tspan x="335.93" y="401.3" font-size="13" textLength="31.73" lengthAdjust="spacingAndGlyphs"> Wcm</tspan><tspan x="367.66" y="395.71" font-size="8.06" textLength="6.84" lengthAdjust="spacingAndGlyphs">-2</tspan></text>
<rect x="429.2" y="228.7" width="132.1" height="180.7" fill="none" stroke="#000" stroke-width="2.2"/>
<path d="M429.2 409.4v5.6M429.2 228.7v-5.6M445.71 409.4v5.6M445.71 228.7v-5.6M462.22 409.4v5.6M462.22 228.7v-5.6M478.74 409.4v5.6M478.74 228.7v-5.6M495.25 409.4v5.6M495.25 228.7v-5.6M511.76 409.4v5.6M511.76 228.7v-5.6M528.27 409.4v5.6M528.27 228.7v-5.6M544.79 409.4v5.6M544.79 228.7v-5.6M561.3 409.4v5.6M561.3 228.7v-5.6M429.2 409.4h-5.6M561.3 409.4h5.6M429.2 389.32h-5.6M561.3 389.32h5.6M429.2 369.24h-5.6M561.3 369.24h5.6M429.2 349.17h-5.6M561.3 349.17h5.6M429.2 329.09h-5.6M561.3 329.09h5.6M429.2 309.01h-5.6M561.3 309.01h5.6M429.2 288.93h-5.6M561.3 288.93h5.6M429.2 268.86h-5.6M561.3 268.86h5.6M429.2 248.78h-5.6M561.3 248.78h5.6M429.2 228.7h-5.6M561.3 228.7h5.6" stroke="#000" stroke-width="2.2" fill="none"/>
<text x="429.2" y="432.9" font-size="17.3" text-anchor="middle">-0.2</text>
<text x="462.22" y="432.9" font-size="17.3" text-anchor="middle">0.0</text>
<text x="495.25" y="432.9" font-size="17.3" text-anchor="middle">0.2</text>
<text x="528.27" y="432.9" font-size="17.3" text-anchor="middle">0.4</text>
<text x="561.3" y="432.9" font-size="17.3" text-anchor="middle">0.6</text>
<text x="421.8" y="415.4" font-size="17.3" text-anchor="end">0</text>
<text x="421.8" y="375.24" font-size="17.3" text-anchor="end">10</text>
<text x="421.8" y="335.09" font-size="17.3" text-anchor="end">20</text>
<text x="421.8" y="294.93" font-size="17.3" text-anchor="end">30</text>
<text x="421.8" y="254.78" font-size="17.3" text-anchor="end">40</text>
<path d="M432 409L432.26 409L432.52 409L432.77 409L433.03 409L433.29 409L433.55 409L433.81 409L434.06 409L434.32 408.99L434.58 408.99L434.84 408.99L435.1 408.99L435.36 408.99L435.61 408.99L435.87 408.99L436.13 408.98L436.39 408.98L436.65 408.98L436.9 408.98L437.16 408.97L437.42 408.97L437.68 408.97L437.94 408.97L438.19 408.96L438.45 408.96L438.71 408.96L438.97 408.95L439.23 408.95L439.49 408.94L439.74 408.94L440 408.94L440.26 408.93L440.52 408.93L440.78 408.92L441.03 408.92L441.29 408.91L441.55 408.91L441.81 408.9L442.07 408.9L442.32 408.89L442.58 408.89L442.84 408.88L443.1 408.87L443.36 408.87L443.62 408.86L443.87 408.85L444.13 408.85L444.39 408.84L444.65 408.83L444.91 408.83L445.16 408.82L445.42 408.81L445.68 408.8L445.94 408.79L446.2 408.78L446.45 408.76L446.71 408.74L446.97 408.71L447.23 408.68L447.49 408.64L447.75 408.6L448 408.56L448.26 408.51L448.52 408.47L448.78 408.41L449.04 408.36L449.29 408.3L449.55 408.25L449.81 408.19L450.07 408.12L450.33 408.06L450.58 408L450.84 407.94L451.1 407.88L451.36 407.81L451.62 407.74L451.87 407.67L452.13 407.6L452.39 407.52L452.65 407.44L452.91 407.35L453.17 407.26L453.42 407.17L453.68 407.08L453.94 406.97L454.2 406.87L454.46 406.76L454.71 406.64L454.97 406.52L455.23 406.39L455.49 406.26L455.75 406.12L456 405.98L456.26 405.83L456.52 405.67L456.78 405.51L457.04 405.34L457.3 405.16L457.55 404.94L457.81 404.7L458.07 404.43L458.33 404.13L458.59 403.81L458.84 403.46L459.1 403.1L459.36 402.71L459.62 402.32L459.88 401.9L460.13 401.48L460.39 401.05L460.65 400.61L460.91 400.16L461.17 399.7L461.43 399.22L461.68 398.71L461.94 398.18L462.2 397.62L462.46 397.04L462.72 396.43L462.97 395.8L463.23 395.15L463.49 394.49L463.75 393.8L464.01 393.09L464.26 392.36L464.52 391.62L464.78 390.86L465.04 390.08L465.3 389.28L465.56 388.45L465.81 387.59L466.07 386.7L466.33 385.76L466.59 384.78L466.85 383.75L467.1 382.67L467.36 381.55L467.62 380.36L467.88 379.11L468.14 377.76L468.39 376.29L468.65 374.71L468.91 373.04L469.17 371.29L469.43 369.46L469.68 367.58L469.94 365.63L470.2 363.62L470.46 361.48L470.72 359.22L470.98 356.86L471.23 354.41L471.49 351.9L471.75 349.32L472.01 346.71L472.27 344.08L472.52 341.43L472.78 338.8L473.04 336.18L473.3 333.6L473.56 331.05L473.81 328.43L474.07 325.77L474.33 323.08L474.59 320.39L474.85 317.72L475.11 315.09L475.36 312.52L475.62 310.05L475.88 307.68L476.14 305.4L476.4 303.16L476.65 300.96L476.91 298.8L477.17 296.68L477.43 294.61L477.69 292.58L477.94 290.6L478.2 288.66L478.46 286.77L478.72 284.94L478.98 283.16L479.24 281.42L479.49 279.72L479.75 278.07L480.01 276.45L480.27 274.88L480.53 273.35L480.78 271.87L481.04 270.43L481.3 269.04L481.56 267.7L481.82 266.35L482.07 264.99L482.33 263.67L482.59 262.43L482.85 261.32L483.11 260.37L483.37 259.63L483.62 258.96L483.88 258.35L484.14 257.84L484.4 257.47L484.66 257.27L484.91 257.16L485.17 257.07L485.43 257.01L485.69 257.01L485.95 257.1L486.2 257.28L486.46 257.5L486.72 257.75L486.98 257.98L487.24 258.21L487.49 258.45L487.75 258.71L488.01 258.98L488.27 259.27L488.53 259.56L488.79 259.84L489.04 260.13L489.3 260.41L489.56 260.68L489.82 260.93L490.08 261.17L490.33 261.4L490.59 261.62L490.85 261.85L491.11 262.07L491.37 262.29L491.62 262.51L491.88 262.72L492.14 262.93L492.4 263.14L492.66 263.34L492.92 263.54L493.17 263.74L493.43 263.93L493.69 264.12L493.95 264.31L494.21 264.49L494.46 264.67L494.72 264.84L494.98 265.01L495.24 265.18L495.5 265.34L495.75 265.49L496.01 265.65L496.27 265.8L496.53 265.95L496.79 266.09L497.05 266.23L497.3 266.37L497.56 266.51L497.82 266.65L498.08 266.78L498.34 266.91L498.59 267.04L498.85 267.16L499.11 267.29L499.37 267.41L499.63 267.52L499.88 267.64L500.14 267.75L500.4 267.86L500.66 267.96L500.92 268.07L501.18 268.17L501.43 268.27L501.69 268.37L501.95 268.46L502.21 268.56L502.47 268.65L502.72 268.75L502.98 268.84L503.24 268.93L503.5 269.01L503.76 269.1L504.01 269.19L504.27 269.27L504.53 269.35L504.79 269.43L505.05 269.51L505.31 269.59L505.56 269.67L505.82 269.74L506.08 269.82L506.34 269.89L506.6 269.96L506.85 270.03L507.11 270.1L507.37 270.17L507.63 270.23L507.89 270.3L508.14 270.36L508.4 270.42L508.66 270.48L508.92 270.54L509.18 270.6L509.43 270.66L509.69 270.72L509.95 270.78L510.21 270.84L510.47 270.89L510.73 270.95L510.98 271.01L511.24 271.06L511.5 271.11L511.76 271.17L512.02 271.22L512.27 271.27L512.53 271.32L512.79 271.37L513.05 271.41L513.31 271.46L513.56 271.51L513.82 271.55L514.08 271.6L514.34 271.64L514.6 271.68L514.86 271.73L515.11 271.77L515.37 271.81L515.63 271.85L515.89 271.88L516.15 271.92L516.4 271.96L516.66 271.99L516.92 272.03L517.18 272.06L517.44 272.1L517.69 272.13L517.95 272.16L518.21 272.2L518.47 272.23L518.73 272.26L518.99 272.29L519.24 272.32L519.5 272.35L519.76 272.38L520.02 272.41L520.28 272.44L520.53 272.47L520.79 272.5L521.05 272.52L521.31 272.55L521.57 272.58L521.82 272.6L522.08 272.63L522.34 272.66L522.6 272.68L522.86 272.71L523.12 272.73L523.37 272.76L523.63 272.78L523.89 272.8L524.15 272.83L524.41 272.85L524.66 272.87L524.92 272.89L525.18 272.92L525.44 272.94L525.7 272.96L525.95 272.98L526.21 273L526.47 273.02L526.73 273.04L526.99 273.06L527.24 273.08L527.5 273.1L527.76 273.12L528.02 273.14L528.28 273.16L528.54 273.18L528.79 273.2L529.05 273.22L529.31 273.24L529.57 273.26L529.83 273.28L530.08 273.3L530.34 273.31L530.6 273.33L530.86 273.35L531.12 273.37L531.37 273.39L531.63 273.4L531.89 273.42L532.15 273.44L532.41 273.45L532.67 273.47L532.92 273.49L533.18 273.5L533.44 273.52L533.7 273.54L533.96 273.55L534.21 273.57L534.47 273.59L534.73 273.6L534.99 273.62L535.25 273.63L535.5 273.65L535.76 273.66L536.02 273.68L536.28 273.69L536.54 273.71L536.8 273.72L537.05 273.74L537.31 273.75L537.57 273.77L537.83 273.78L538.09 273.8L538.34 273.81L538.6 273.82L538.86 273.84L539.12 273.85L539.38 273.87L539.63 273.88L539.89 273.89L540.15 273.91L540.41 273.92L540.67 273.94L540.93 273.95L541.18 273.96L541.44 273.98L541.7 273.99L541.96 274L542.22 274.02L542.47 274.03L542.73 274.04L542.99 274.06L543.25 274.07L543.51 274.08L543.76 274.1L544.02 274.11L544.28 274.12L544.54 274.13L544.8 274.15L545.05 274.16L545.31 274.17L545.57 274.19L545.83 274.2L546.09 274.21L546.35 274.22L546.6 274.24L546.86 274.25L547.12 274.26L547.38 274.27L547.64 274.28L547.89 274.3L548.15 274.31L548.41 274.32L548.67 274.33L548.93 274.34L549.18 274.36L549.44 274.37L549.7 274.38L549.96 274.39L550.22 274.4L550.48 274.41L550.73 274.43L550.99 274.44L551.25 274.45L551.51 274.46L551.77 274.47L552.02 274.48L552.28 274.49L552.54 274.5L552.8 274.51L553.06 274.52L553.31 274.53L553.57 274.55L553.83 274.56L554.09 274.57L554.35 274.58L554.61 274.59L554.86 274.6L555.12 274.61L555.38 274.62L555.64 274.63L555.9 274.64L556.15 274.64L556.41 274.65L556.67 274.66L556.93 274.67L557.19 274.68L557.44 274.69L557.7 274.7L557.96 274.71L558.22 274.72L558.48 274.73L558.74 274.74L558.99 274.74L559.25 274.75L559.51 274.76L559.77 274.77L560.03 274.78L560.28 274.78L560.54 274.79L560.8 274.8" fill="none" stroke="#000" stroke-width="2.2" stroke-linejoin="round" stroke-linecap="butt"/>
<path d="M440 409L440.3 409L440.61 409L440.91 409L441.21 409L441.51 408.99L441.82 408.99L442.12 408.99L442.42 408.99L442.72 408.98L443.03 408.98L443.33 408.98L443.63 408.97L443.94 408.97L444.24 408.96L444.54 408.95L444.84 408.95L445.15 408.94L445.45 408.94L445.75 408.93L446.06 408.92L446.36 408.91L446.66 408.9L446.96 408.9L447.27 408.89L447.57 408.88L447.87 408.87L448.17 408.86L448.48 408.85L448.78 408.84L449.08 408.82L449.39 408.81L449.69 408.8L449.99 408.79L450.29 408.78L450.6 408.76L450.9 408.75L451.2 408.74L451.5 408.72L451.81 408.71L452.11 408.69L452.41 408.68L452.72 408.65L453.02 408.62L453.32 408.59L453.62 408.55L453.93 408.5L454.23 408.46L454.53 408.4L454.84 408.35L455.14 408.29L455.44 408.23L455.74 408.16L456.05 408.09L456.35 408.02L456.65 407.95L456.95 407.87L457.26 407.8L457.56 407.72L457.86 407.64L458.17 407.55L458.47 407.46L458.77 407.37L459.07 407.26L459.38 407.15L459.68 407.03L459.98 406.9L460.28 406.77L460.59 406.63L460.89 406.48L461.19 406.33L461.5 406.16L461.8 406L462.1 405.82L462.4 405.64L462.71 405.45L463.01 405.26L463.31 405.06L463.62 404.86L463.92 404.65L464.22 404.43L464.52 404.21L464.83 403.98L465.13 403.74L465.43 403.47L465.73 403.19L466.04 402.88L466.34 402.56L466.64 402.21L466.95 401.84L467.25 401.46L467.55 401.05L467.85 400.63L468.16 400.18L468.46 399.72L468.76 399.24L469.06 398.71L469.37 398.13L469.67 397.5L469.97 396.84L470.28 396.14L470.58 395.4L470.88 394.62L471.18 393.81L471.49 392.98L471.79 392.11L472.09 391.23L472.39 390.28L472.7 389.29L473 388.23L473.3 387.13L473.61 385.98L473.91 384.78L474.21 383.54L474.51 382.27L474.82 380.96L475.12 379.61L475.42 378.24L475.73 376.85L476.03 375.43L476.33 373.99L476.63 372.54L476.94 371.03L477.24 369.44L477.54 367.79L477.84 366.08L478.15 364.32L478.45 362.52L478.75 360.68L479.06 358.82L479.36 356.94L479.66 355.06L479.96 353.17L480.27 351.3L480.57 349.45L480.87 347.62L481.17 345.83L481.48 344.06L481.78 342.27L482.08 340.45L482.39 338.61L482.69 336.76L482.99 334.91L483.29 333.08L483.6 331.26L483.9 329.47L484.2 327.73L484.51 326.03L484.81 324.39L485.11 322.82L485.41 321.33L485.72 319.93L486.02 318.6L486.32 317.32L486.62 316.1L486.93 314.92L487.23 313.78L487.53 312.67L487.84 311.6L488.14 310.55L488.44 309.53L488.74 308.52L489.05 307.5L489.35 306.48L489.65 305.47L489.95 304.48L490.26 303.52L490.56 302.59L490.86 301.71L491.17 300.89L491.47 300.13L491.77 299.45L492.07 298.86L492.38 298.32L492.68 297.81L492.98 297.32L493.29 296.87L493.59 296.44L493.89 296.03L494.19 295.65L494.5 295.29L494.8 294.94L495.1 294.61L495.4 294.3L495.71 293.99L496.01 293.71L496.31 293.43L496.62 293.16L496.92 292.9L497.22 292.66L497.52 292.42L497.83 292.19L498.13 291.96L498.43 291.75L498.73 291.54L499.04 291.33L499.34 291.13L499.64 290.93L499.95 290.73L500.25 290.54L500.55 290.35L500.85 290.17L501.16 289.99L501.46 289.81L501.76 289.63L502.07 289.46L502.37 289.29L502.67 289.13L502.97 288.96L503.28 288.8L503.58 288.65L503.88 288.49L504.18 288.34L504.49 288.2L504.79 288.05L505.09 287.91L505.4 287.77L505.7 287.63L506 287.5L506.3 287.37L506.61 287.24L506.91 287.11L507.21 286.98L507.51 286.85L507.82 286.73L508.12 286.6L508.42 286.48L508.73 286.36L509.03 286.24L509.33 286.13L509.63 286.02L509.94 285.9L510.24 285.8L510.54 285.69L510.85 285.59L511.15 285.49L511.45 285.39L511.75 285.3L512.06 285.21L512.36 285.12L512.66 285.04L512.96 284.96L513.27 284.88L513.57 284.8L513.87 284.73L514.18 284.65L514.48 284.58L514.78 284.51L515.08 284.44L515.39 284.37L515.69 284.3L515.99 284.23L516.29 284.17L516.6 284.1L516.9 284.04L517.2 283.98L517.51 283.92L517.81 283.86L518.11 283.8L518.41 283.74L518.72 283.68L519.02 283.62L519.32 283.57L519.63 283.51L519.93 283.46L520.23 283.4L520.53 283.35L520.84 283.29L521.14 283.24L521.44 283.19L521.74 283.14L522.05 283.09L522.35 283.04L522.65 282.98L522.96 282.93L523.26 282.88L523.56 282.83L523.86 282.79L524.17 282.74L524.47 282.69L524.77 282.64L525.07 282.59L525.38 282.54L525.68 282.49L525.98 282.44L526.29 282.4L526.59 282.35L526.89 282.3L527.19 282.26L527.5 282.21L527.8 282.17L528.1 282.12L528.41 282.08L528.71 282.04L529.01 281.99L529.31 281.95L529.62 281.91L529.92 281.87L530.22 281.82L530.52 281.78L530.83 281.74L531.13 281.7L531.43 281.66L531.74 281.62L532.04 281.58L532.34 281.54L532.64 281.5L532.95 281.46L533.25 281.42L533.55 281.38L533.85 281.34L534.16 281.3L534.46 281.27L534.76 281.23L535.07 281.19L535.37 281.15L535.67 281.11L535.97 281.07L536.28 281.03L536.58 280.99L536.88 280.95L537.18 280.91L537.49 280.88L537.79 280.84L538.09 280.8L538.4 280.76L538.7 280.72L539 280.68L539.3 280.64L539.61 280.6L539.91 280.56L540.21 280.53L540.52 280.49L540.82 280.45L541.12 280.41L541.42 280.37L541.73 280.33L542.03 280.3L542.33 280.26L542.63 280.22L542.94 280.18L543.24 280.15L543.54 280.11L543.85 280.07L544.15 280.04L544.45 280L544.75 279.97L545.06 279.93L545.36 279.89L545.66 279.86L545.96 279.82L546.27 279.79L546.57 279.76L546.87 279.72L547.18 279.69L547.48 279.66L547.78 279.62L548.08 279.59L548.39 279.56L548.69 279.53L548.99 279.5L549.3 279.46L549.6 279.43L549.9 279.4L550.2 279.37L550.51 279.34L550.81 279.31L551.11 279.28L551.41 279.25L551.72 279.22L552.02 279.19L552.32 279.16L552.63 279.13L552.93 279.1L553.23 279.07L553.53 279.04L553.84 279.01L554.14 278.98L554.44 278.95L554.74 278.92L555.05 278.9L555.35 278.87L555.65 278.84L555.96 278.81L556.26 278.78L556.56 278.76L556.86 278.73L557.17 278.7L557.47 278.68L557.77 278.65L558.08 278.62L558.38 278.6L558.68 278.57L558.98 278.55L559.29 278.52L559.59 278.5L559.89 278.47L560.19 278.45L560.5 278.42L560.8 278.4" fill="none" stroke="#000" stroke-width="2.2" stroke-linejoin="round" stroke-linecap="butt"/>
<text xml:space="preserve"><tspan x="435" y="249.7" font-size="18">(f)</tspan></text>
<text xml:space="preserve"><tspan x="467.2" y="247.3" font-size="13" textLength="4.4" lengthAdjust="spacingAndGlyphs">I</tspan><tspan x="471.6" y="250.29" font-size="8.06" textLength="7.28" lengthAdjust="spacingAndGlyphs">M</tspan><tspan x="478.88" y="247.3" font-size="13" textLength="31.65" lengthAdjust="spacingAndGlyphs">=5·10</tspan><tspan x="510.53" y="241.71" font-size="8.06" textLength="8.19" lengthAdjust="spacingAndGlyphs">14</tspan><tspan x="518.72" y="247.3" font-size="13" textLength="31.66" lengthAdjust="spacingAndGlyphs"> Wcm</tspan><tspan x="550.38" y="241.71" font-size="8.06" textLength="6.82" lengthAdjust="spacingAndGlyphs">-2</tspan></text>
<text xml:space="preserve"><tspan x="449.9" y="312.7" font-size="13" textLength="22.8" lengthAdjust="spacingAndGlyphs">&lt;E&gt;</tspan></text>
<text xml:space="preserve"><tspan x="515.6" y="312.7" font-size="13" textLength="42" lengthAdjust="spacingAndGlyphs">τ=230fs</tspan></text>
<text xml:space="preserve"><tspan x="518.96" y="328.2" font-size="15.3">Xe</tspan><tspan x="536.8" y="332.02" font-size="10.25">6099</tspan></text>
<text xml:space="preserve"><tspan x="486.2" y="350.6" font-size="13" textLength="22.6" lengthAdjust="spacingAndGlyphs">&lt;T&gt;</tspan></text>
<text xml:space="preserve"><tspan x="475.3" y="401" font-size="13" textLength="15.5" lengthAdjust="spacingAndGlyphs">&lt;E</tspan><tspan x="490.8" y="395.41" font-size="8.06" textLength="10.45" lengthAdjust="spacingAndGlyphs">(L)</tspan><tspan x="501.25" y="401" font-size="13" textLength="56.65" lengthAdjust="spacingAndGlyphs">&gt; = 34keV</tspan></text>
<text x="311.6" y="455.0" font-size="18.4" text-anchor="middle">t / ps</text>
<text transform="translate(16.2 211.2) rotate(-90)" font-size="18" text-anchor="middle">E / keV</text>
</svg>
</body>
</html>
